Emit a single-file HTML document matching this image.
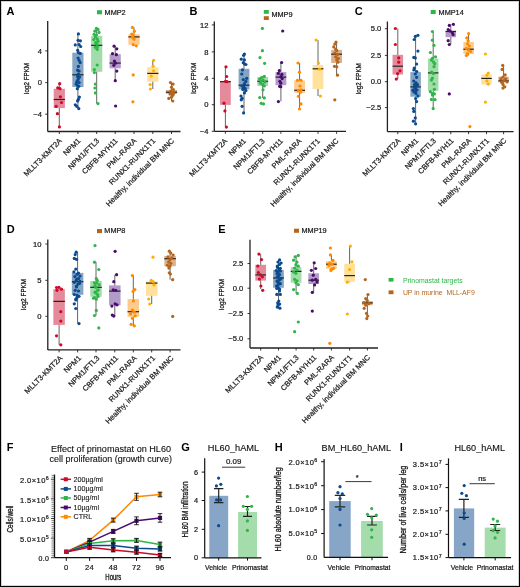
<!DOCTYPE html>
<html><head><meta charset="utf-8"><style>
html,body{margin:0;padding:0;background:#fff;}
svg{display:block;font-family:"Liberation Sans", sans-serif;will-change:transform;}
text{stroke:#1a1a1a;stroke-width:0.22px;}
.g{stroke:#2fb548;} .br{stroke:#b5651d;} .nb{stroke:none;}
</style></head><body>
<svg width="520" height="587" viewBox="0 0 520 587">
<rect x="0" y="0" width="520" height="587" fill="#fff"/>
<rect x="1.5" y="1.5" width="517" height="584" fill="none" stroke="#d4d4d4" stroke-width="1"/>
<rect x="0.5" y="0.5" width="519" height="586" fill="none" stroke="#000" stroke-width="1"/>
<line x1="47.7" y1="21" x2="47.7" y2="131.5" stroke="#222" stroke-width="1.3"/>
<line x1="47.7" y1="131.5" x2="180.5" y2="131.5" stroke="#222" stroke-width="1.3"/>
<line x1="45.2" y1="50.9" x2="47.7" y2="50.9" stroke="#222" stroke-width="0.9"/>
<text x="41.900000000000006" y="53.5" text-anchor="end" font-size="7.6" fill="#222">4</text>
<line x1="45.2" y1="82.6" x2="47.7" y2="82.6" stroke="#222" stroke-width="0.9"/>
<text x="41.900000000000006" y="85.19999999999999" text-anchor="end" font-size="7.6" fill="#222">0</text>
<line x1="45.2" y1="114.2" x2="47.7" y2="114.2" stroke="#222" stroke-width="0.9"/>
<text x="41.900000000000006" y="116.8" text-anchor="end" font-size="7.6" fill="#222">−4</text>
<text transform="translate(29.1,78.4) rotate(-90)" text-anchor="middle" font-size="7.8" fill="#111" style="stroke-width:0.28px" textLength="31" lengthAdjust="spacingAndGlyphs">log2 FPKM</text>
<line x1="59.3" y1="131.5" x2="59.3" y2="134.0" stroke="#222" stroke-width="0.9"/>
<text transform="translate(62.4,141.3) rotate(-45)" text-anchor="end" font-size="7.5" fill="#222">MLLT3-KMT2A</text>
<line x1="59.3" y1="83.7" x2="59.3" y2="126.9" stroke="#555" stroke-width="0.9"/>
<rect x="53.699999999999996" y="88.8" width="11.2" height="19.299999999999997" fill="#e58a9b"/>
<line x1="53.699999999999996" y1="99.5" x2="64.89999999999999" y2="99.5" stroke="#222" stroke-width="1.2"/>
<circle cx="59.7" cy="83.7" r="1.6" fill="#cc0a2a"/>
<circle cx="57.7" cy="87.9" r="1.6" fill="#cc0a2a"/>
<circle cx="60" cy="88.7" r="1.6" fill="#cc0a2a"/>
<circle cx="60.4" cy="96.8" r="1.6" fill="#cc0a2a"/>
<circle cx="61.5" cy="102.5" r="1.6" fill="#cc0a2a"/>
<circle cx="56.1" cy="106.3" r="1.6" fill="#cc0a2a"/>
<circle cx="57.4" cy="113.7" r="1.6" fill="#cc0a2a"/>
<circle cx="59.4" cy="126.9" r="1.6" fill="#cc0a2a"/>
<line x1="77.9" y1="131.5" x2="77.9" y2="134.0" stroke="#222" stroke-width="0.9"/>
<text transform="translate(81.0,141.3) rotate(-45)" text-anchor="end" font-size="7.5" fill="#222">NPM1</text>
<line x1="77.9" y1="33.9" x2="77.9" y2="108.6" stroke="#555" stroke-width="0.9"/>
<rect x="72.30000000000001" y="52.7" width="11.2" height="34.3" fill="#84a4c6"/>
<line x1="72.30000000000001" y1="74.8" x2="83.5" y2="74.8" stroke="#222" stroke-width="1.2"/>
<circle cx="78.4" cy="33.9" r="1.6" fill="#0b4a8e"/>
<circle cx="78.1" cy="40.3" r="1.6" fill="#0b4a8e"/>
<circle cx="80.4" cy="40.8" r="1.6" fill="#0b4a8e"/>
<circle cx="75.3" cy="44.9" r="1.6" fill="#0b4a8e"/>
<circle cx="79.1" cy="44.6" r="1.6" fill="#0b4a8e"/>
<circle cx="80.7" cy="46.5" r="1.6" fill="#0b4a8e"/>
<circle cx="77.6" cy="50.3" r="1.6" fill="#0b4a8e"/>
<circle cx="78.4" cy="52.6" r="1.6" fill="#0b4a8e"/>
<circle cx="80.2" cy="53.4" r="1.6" fill="#0b4a8e"/>
<circle cx="78.1" cy="58" r="1.6" fill="#0b4a8e"/>
<circle cx="79.1" cy="60.3" r="1.6" fill="#0b4a8e"/>
<circle cx="80.2" cy="62.6" r="1.6" fill="#0b4a8e"/>
<circle cx="78.4" cy="66.4" r="1.6" fill="#0b4a8e"/>
<circle cx="77.6" cy="70.2" r="1.6" fill="#0b4a8e"/>
<circle cx="79.1" cy="71" r="1.6" fill="#0b4a8e"/>
<circle cx="78.4" cy="74.1" r="1.6" fill="#0b4a8e"/>
<circle cx="77.6" cy="76.4" r="1.6" fill="#0b4a8e"/>
<circle cx="79.6" cy="77.1" r="1.6" fill="#0b4a8e"/>
<circle cx="78.1" cy="79.4" r="1.6" fill="#0b4a8e"/>
<circle cx="76.8" cy="81.7" r="1.6" fill="#0b4a8e"/>
<circle cx="79.1" cy="82.5" r="1.6" fill="#0b4a8e"/>
<circle cx="76.1" cy="84" r="1.6" fill="#0b4a8e"/>
<circle cx="77.6" cy="85.6" r="1.6" fill="#0b4a8e"/>
<circle cx="78.8" cy="86.3" r="1.6" fill="#0b4a8e"/>
<circle cx="77.3" cy="88.7" r="1.6" fill="#0b4a8e"/>
<circle cx="79.4" cy="97.1" r="1.6" fill="#0b4a8e"/>
<circle cx="78.4" cy="99.4" r="1.6" fill="#0b4a8e"/>
<circle cx="77.6" cy="100.9" r="1.6" fill="#0b4a8e"/>
<circle cx="75.3" cy="104.8" r="1.6" fill="#0b4a8e"/>
<circle cx="76.8" cy="106.3" r="1.6" fill="#0b4a8e"/>
<circle cx="78.8" cy="108.6" r="1.6" fill="#0b4a8e"/>
<line x1="96.7" y1="131.5" x2="96.7" y2="134.0" stroke="#222" stroke-width="0.9"/>
<text transform="translate(99.8,141.3) rotate(-45)" text-anchor="end" font-size="7.5" fill="#222">NPM1/FTL3</text>
<line x1="96.7" y1="28.4" x2="96.7" y2="103.6" stroke="#555" stroke-width="0.9"/>
<rect x="91.10000000000001" y="35.8" width="11.2" height="36.0" fill="#a2dcaa"/>
<line x1="91.10000000000001" y1="45.3" x2="102.3" y2="45.3" stroke="#222" stroke-width="1.2"/>
<circle cx="96.4" cy="28.4" r="1.6" fill="#2fb548"/>
<circle cx="98" cy="29.4" r="1.6" fill="#2fb548"/>
<circle cx="94.9" cy="31.2" r="1.6" fill="#2fb548"/>
<circle cx="99" cy="32.4" r="1.6" fill="#2fb548"/>
<circle cx="94.1" cy="34.3" r="1.6" fill="#2fb548"/>
<circle cx="96.4" cy="35" r="1.6" fill="#2fb548"/>
<circle cx="95.4" cy="37" r="1.6" fill="#2fb548"/>
<circle cx="97.2" cy="38.9" r="1.6" fill="#2fb548"/>
<circle cx="93.8" cy="39.6" r="1.6" fill="#2fb548"/>
<circle cx="98" cy="41.2" r="1.6" fill="#2fb548"/>
<circle cx="95.7" cy="42.7" r="1.6" fill="#2fb548"/>
<circle cx="96.9" cy="44.2" r="1.6" fill="#2fb548"/>
<circle cx="97.5" cy="46.5" r="1.6" fill="#2fb548"/>
<circle cx="95.4" cy="47.3" r="1.6" fill="#2fb548"/>
<circle cx="97.2" cy="49.3" r="1.6" fill="#2fb548"/>
<circle cx="97.2" cy="65" r="1.6" fill="#2fb548"/>
<circle cx="94.4" cy="69.5" r="1.6" fill="#2fb548"/>
<circle cx="94.4" cy="72.6" r="1.6" fill="#2fb548"/>
<circle cx="95.4" cy="84.1" r="1.6" fill="#2fb548"/>
<circle cx="94.9" cy="88" r="1.6" fill="#2fb548"/>
<circle cx="95.4" cy="92.9" r="1.6" fill="#2fb548"/>
<circle cx="98" cy="103.6" r="1.6" fill="#2fb548"/>
<line x1="115.2" y1="131.5" x2="115.2" y2="134.0" stroke="#222" stroke-width="0.9"/>
<text transform="translate(118.3,141.3) rotate(-45)" text-anchor="end" font-size="7.5" fill="#222">CBFB-MYH11</text>
<line x1="115.2" y1="46.2" x2="115.2" y2="80.7" stroke="#555" stroke-width="0.9"/>
<rect x="109.60000000000001" y="54.2" width="11.2" height="14.099999999999994" fill="#b39bc9"/>
<line x1="109.60000000000001" y1="63.1" x2="120.8" y2="63.1" stroke="#222" stroke-width="1.2"/>
<circle cx="114.1" cy="46.2" r="1.6" fill="#4b0b6e"/>
<circle cx="116.8" cy="48.8" r="1.6" fill="#4b0b6e"/>
<circle cx="112.5" cy="53.7" r="1.6" fill="#4b0b6e"/>
<circle cx="116.4" cy="54.7" r="1.6" fill="#4b0b6e"/>
<circle cx="114.4" cy="61.1" r="1.6" fill="#4b0b6e"/>
<circle cx="115.6" cy="63.1" r="1.6" fill="#4b0b6e"/>
<circle cx="113.8" cy="65.3" r="1.6" fill="#4b0b6e"/>
<circle cx="116.8" cy="71.1" r="1.6" fill="#4b0b6e"/>
<circle cx="115.3" cy="80.7" r="1.6" fill="#4b0b6e"/>
<circle cx="115.6" cy="106" r="1.6" fill="#4b0b6e"/>
<line x1="134" y1="131.5" x2="134" y2="134.0" stroke="#222" stroke-width="0.9"/>
<text transform="translate(137.1,141.3) rotate(-45)" text-anchor="end" font-size="7.5" fill="#222">PML-RARA</text>
<line x1="134" y1="27.4" x2="134" y2="45.8" stroke="#555" stroke-width="0.9"/>
<rect x="128.4" y="34.3" width="11.2" height="10.400000000000006" fill="#ffcb8c"/>
<line x1="128.4" y1="36.9" x2="139.6" y2="36.9" stroke="#222" stroke-width="1.2"/>
<circle cx="132.4" cy="27.4" r="1.6" fill="#ff8a00"/>
<circle cx="134.4" cy="31.2" r="1.6" fill="#ff8a00"/>
<circle cx="131.7" cy="34" r="1.6" fill="#ff8a00"/>
<circle cx="133.2" cy="35.5" r="1.6" fill="#ff8a00"/>
<circle cx="132.4" cy="37.3" r="1.6" fill="#ff8a00"/>
<circle cx="134" cy="39.2" r="1.6" fill="#ff8a00"/>
<circle cx="133.2" cy="44.7" r="1.6" fill="#ff8a00"/>
<circle cx="136.3" cy="45.8" r="1.6" fill="#ff8a00"/>
<circle cx="133.2" cy="74.9" r="1.6" fill="#ff8a00"/>
<circle cx="132.9" cy="101.8" r="1.6" fill="#ff8a00"/>
<line x1="152.8" y1="131.5" x2="152.8" y2="134.0" stroke="#222" stroke-width="0.9"/>
<text transform="translate(155.9,141.3) rotate(-45)" text-anchor="end" font-size="7.5" fill="#222">RUNX1-RUNX1T1</text>
<line x1="152.8" y1="60.3" x2="152.8" y2="89" stroke="#555" stroke-width="0.9"/>
<rect x="147.20000000000002" y="67.2" width="11.2" height="14.599999999999994" fill="#ffe19c"/>
<line x1="147.20000000000002" y1="73.4" x2="158.4" y2="73.4" stroke="#222" stroke-width="1.2"/>
<circle cx="153.6" cy="60.3" r="1.6" fill="#ffb000"/>
<circle cx="153.1" cy="66.2" r="1.6" fill="#ffb000"/>
<circle cx="153.6" cy="70.8" r="1.6" fill="#ffb000"/>
<circle cx="151.3" cy="76" r="1.6" fill="#ffb000"/>
<circle cx="150.1" cy="84.6" r="1.6" fill="#ffb000"/>
<circle cx="150.4" cy="89" r="1.6" fill="#ffb000"/>
<line x1="171.5" y1="131.5" x2="171.5" y2="134.0" stroke="#222" stroke-width="0.9"/>
<text transform="translate(174.6,141.3) rotate(-45)" text-anchor="end" font-size="7.5" fill="#222">Healthy, individual BM MNC</text>
<line x1="171.5" y1="82.6" x2="171.5" y2="101" stroke="#555" stroke-width="0.9"/>
<rect x="165.9" y="89.9" width="11.2" height="3.8999999999999915" fill="#dcb189"/>
<line x1="165.9" y1="92.2" x2="177.1" y2="92.2" stroke="#222" stroke-width="1.2"/>
<circle cx="170.5" cy="82.6" r="1.6" fill="#b5651d"/>
<circle cx="173.1" cy="84.1" r="1.6" fill="#b5651d"/>
<circle cx="171.5" cy="87.2" r="1.6" fill="#b5651d"/>
<circle cx="173.4" cy="89.5" r="1.6" fill="#b5651d"/>
<circle cx="170.8" cy="91" r="1.6" fill="#b5651d"/>
<circle cx="172.3" cy="92.6" r="1.6" fill="#b5651d"/>
<circle cx="173.8" cy="93.3" r="1.6" fill="#b5651d"/>
<circle cx="170" cy="94.1" r="1.6" fill="#b5651d"/>
<circle cx="172.8" cy="95.3" r="1.6" fill="#b5651d"/>
<circle cx="171.5" cy="97.2" r="1.6" fill="#b5651d"/>
<circle cx="168.8" cy="98.4" r="1.6" fill="#b5651d"/>
<circle cx="172.8" cy="101" r="1.6" fill="#b5651d"/>
<rect x="97" y="10.2" width="5" height="4.1" fill="#2fb548"/>
<text x="104.6" y="14.8" font-size="7.3" fill="#222">MMP2</text>
<text x="6.6" y="14.6" font-size="11" font-weight="bold" fill="#000" class="nb">A</text>
<line x1="214.3" y1="21.5" x2="214.3" y2="131.3" stroke="#222" stroke-width="1.3"/>
<line x1="214.3" y1="131.3" x2="346" y2="131.3" stroke="#222" stroke-width="1.3"/>
<line x1="211.8" y1="24.9" x2="214.3" y2="24.9" stroke="#222" stroke-width="0.9"/>
<text x="208.4" y="27.5" text-anchor="end" font-size="7.6" fill="#222">12</text>
<line x1="211.8" y1="51.9" x2="214.3" y2="51.9" stroke="#222" stroke-width="0.9"/>
<text x="208.4" y="54.5" text-anchor="end" font-size="7.6" fill="#222">8</text>
<line x1="211.8" y1="78.3" x2="214.3" y2="78.3" stroke="#222" stroke-width="0.9"/>
<text x="208.4" y="80.89999999999999" text-anchor="end" font-size="7.6" fill="#222">4</text>
<line x1="211.8" y1="104.7" x2="214.3" y2="104.7" stroke="#222" stroke-width="0.9"/>
<text x="208.4" y="107.3" text-anchor="end" font-size="7.6" fill="#222">0</text>
<line x1="211.8" y1="131.3" x2="214.3" y2="131.3" stroke="#222" stroke-width="0.9"/>
<text x="208.4" y="133.9" text-anchor="end" font-size="7.6" fill="#222">−4</text>
<text transform="translate(196.0,78.3) rotate(-90)" text-anchor="middle" font-size="7.8" fill="#111" style="stroke-width:0.28px" textLength="31" lengthAdjust="spacingAndGlyphs">log2 FPKM</text>
<line x1="225.4" y1="131.3" x2="225.4" y2="133.8" stroke="#222" stroke-width="0.9"/>
<text transform="translate(227.9,141.5) rotate(-45)" text-anchor="end" font-size="7.5" fill="#222">MLLT3-KMT2A</text>
<line x1="225.4" y1="66.8" x2="225.4" y2="127.1" stroke="#555" stroke-width="0.9"/>
<rect x="220.0" y="81.1" width="10.8" height="23.80000000000001" fill="#e58a9b"/>
<line x1="220.0" y1="81.7" x2="230.8" y2="81.7" stroke="#222" stroke-width="1.2"/>
<circle cx="226" cy="66.8" r="1.6" fill="#cc0a2a"/>
<circle cx="226.7" cy="76.5" r="1.6" fill="#cc0a2a"/>
<circle cx="225.5" cy="81.4" r="1.6" fill="#cc0a2a"/>
<circle cx="227" cy="81.7" r="1.6" fill="#cc0a2a"/>
<circle cx="224" cy="103.2" r="1.6" fill="#cc0a2a"/>
<circle cx="224.9" cy="110.9" r="1.6" fill="#cc0a2a"/>
<circle cx="226.4" cy="127.1" r="1.6" fill="#cc0a2a"/>
<line x1="244" y1="131.3" x2="244" y2="133.8" stroke="#222" stroke-width="0.9"/>
<text transform="translate(246.5,141.5) rotate(-45)" text-anchor="end" font-size="7.5" fill="#222">NPM1</text>
<line x1="244" y1="54.1" x2="244" y2="112.9" stroke="#555" stroke-width="0.9"/>
<rect x="238.6" y="68.8" width="10.8" height="20.60000000000001" fill="#84a4c6"/>
<line x1="238.6" y1="85.2" x2="249.4" y2="85.2" stroke="#222" stroke-width="1.2"/>
<circle cx="244.4" cy="54.1" r="1.6" fill="#0b4a8e"/>
<circle cx="243.6" cy="55.3" r="1.6" fill="#0b4a8e"/>
<circle cx="241.3" cy="59.2" r="1.6" fill="#0b4a8e"/>
<circle cx="244.4" cy="59.9" r="1.6" fill="#0b4a8e"/>
<circle cx="243.3" cy="62.7" r="1.6" fill="#0b4a8e"/>
<circle cx="245.9" cy="64.5" r="1.6" fill="#0b4a8e"/>
<circle cx="244.4" cy="63.8" r="1.6" fill="#0b4a8e"/>
<circle cx="242.5" cy="69.9" r="1.6" fill="#0b4a8e"/>
<circle cx="241.8" cy="74" r="1.6" fill="#0b4a8e"/>
<circle cx="246.7" cy="78.3" r="1.6" fill="#0b4a8e"/>
<circle cx="243.3" cy="79.6" r="1.6" fill="#0b4a8e"/>
<circle cx="245.9" cy="81.4" r="1.6" fill="#0b4a8e"/>
<circle cx="244.4" cy="83.7" r="1.6" fill="#0b4a8e"/>
<circle cx="242.1" cy="86" r="1.6" fill="#0b4a8e"/>
<circle cx="243.6" cy="86.8" r="1.6" fill="#0b4a8e"/>
<circle cx="245.1" cy="88.3" r="1.6" fill="#0b4a8e"/>
<circle cx="242.8" cy="89.4" r="1.6" fill="#0b4a8e"/>
<circle cx="245.9" cy="90.6" r="1.6" fill="#0b4a8e"/>
<circle cx="244.4" cy="92.9" r="1.6" fill="#0b4a8e"/>
<circle cx="241" cy="96" r="1.6" fill="#0b4a8e"/>
<circle cx="242.1" cy="98.3" r="1.6" fill="#0b4a8e"/>
<circle cx="241.3" cy="99.8" r="1.6" fill="#0b4a8e"/>
<circle cx="242.1" cy="106.3" r="1.6" fill="#0b4a8e"/>
<circle cx="243.6" cy="112.9" r="1.6" fill="#0b4a8e"/>
<line x1="262.7" y1="131.3" x2="262.7" y2="133.8" stroke="#222" stroke-width="0.9"/>
<text transform="translate(265.2,141.5) rotate(-45)" text-anchor="end" font-size="7.5" fill="#222">NPM1/FTL3</text>
<line x1="262.7" y1="76" x2="262.7" y2="98" stroke="#555" stroke-width="0.9"/>
<rect x="257.3" y="77" width="10.8" height="9" fill="#a2dcaa"/>
<line x1="257.3" y1="81.3" x2="268.09999999999997" y2="81.3" stroke="#222" stroke-width="1.2"/>
<circle cx="262.4" cy="28.4" r="1.6" fill="#2fb548"/>
<circle cx="262.4" cy="50.7" r="1.6" fill="#2fb548"/>
<circle cx="260" cy="57.6" r="1.6" fill="#2fb548"/>
<circle cx="264.6" cy="63.3" r="1.6" fill="#2fb548"/>
<circle cx="264.3" cy="76.4" r="1.6" fill="#2fb548"/>
<circle cx="261.5" cy="77.5" r="1.6" fill="#2fb548"/>
<circle cx="259.7" cy="79" r="1.6" fill="#2fb548"/>
<circle cx="263" cy="79.8" r="1.6" fill="#2fb548"/>
<circle cx="261.2" cy="81.3" r="1.6" fill="#2fb548"/>
<circle cx="265" cy="82.1" r="1.6" fill="#2fb548"/>
<circle cx="260.4" cy="83.2" r="1.6" fill="#2fb548"/>
<circle cx="262.7" cy="84.4" r="1.6" fill="#2fb548"/>
<circle cx="264.3" cy="86" r="1.6" fill="#2fb548"/>
<circle cx="263" cy="89.8" r="1.6" fill="#2fb548"/>
<circle cx="259.7" cy="97.5" r="1.6" fill="#2fb548"/>
<circle cx="264.3" cy="97.9" r="1.6" fill="#2fb548"/>
<circle cx="261.2" cy="103.3" r="1.6" fill="#2fb548"/>
<circle cx="263.5" cy="103.9" r="1.6" fill="#2fb548"/>
<line x1="280.9" y1="131.3" x2="280.9" y2="133.8" stroke="#222" stroke-width="0.9"/>
<text transform="translate(283.4,141.5) rotate(-45)" text-anchor="end" font-size="7.5" fill="#222">CBFB-MYH11</text>
<line x1="280.9" y1="62.5" x2="280.9" y2="101.3" stroke="#555" stroke-width="0.9"/>
<rect x="275.5" y="72.1" width="10.8" height="13.100000000000009" fill="#b39bc9"/>
<line x1="275.5" y1="77.1" x2="286.29999999999995" y2="77.1" stroke="#222" stroke-width="1.2"/>
<circle cx="282.7" cy="31" r="1.6" fill="#4b0b6e"/>
<circle cx="281.6" cy="62.5" r="1.6" fill="#4b0b6e"/>
<circle cx="279.3" cy="70.6" r="1.6" fill="#4b0b6e"/>
<circle cx="278.4" cy="73.4" r="1.6" fill="#4b0b6e"/>
<circle cx="281.9" cy="74.4" r="1.6" fill="#4b0b6e"/>
<circle cx="280.8" cy="76.7" r="1.6" fill="#4b0b6e"/>
<circle cx="282.2" cy="78.6" r="1.6" fill="#4b0b6e"/>
<circle cx="279.9" cy="81.3" r="1.6" fill="#4b0b6e"/>
<circle cx="280.8" cy="83.2" r="1.6" fill="#4b0b6e"/>
<circle cx="279.6" cy="86.3" r="1.6" fill="#4b0b6e"/>
<circle cx="280.8" cy="86.7" r="1.6" fill="#4b0b6e"/>
<circle cx="278.4" cy="101.6" r="1.6" fill="#4b0b6e"/>
<line x1="299.6" y1="131.3" x2="299.6" y2="133.8" stroke="#222" stroke-width="0.9"/>
<text transform="translate(302.1,141.5) rotate(-45)" text-anchor="end" font-size="7.5" fill="#222">PML-RARA</text>
<line x1="299.6" y1="63" x2="299.6" y2="109" stroke="#555" stroke-width="0.9"/>
<rect x="294.20000000000005" y="80.6" width="10.8" height="12.300000000000011" fill="#ffcb8c"/>
<line x1="294.20000000000005" y1="90.3" x2="305.0" y2="90.3" stroke="#222" stroke-width="1.2"/>
<circle cx="298" cy="63" r="1.6" fill="#ff8a00"/>
<circle cx="299.5" cy="72.2" r="1.6" fill="#ff8a00"/>
<circle cx="297.4" cy="80.3" r="1.6" fill="#ff8a00"/>
<circle cx="301" cy="80.3" r="1.6" fill="#ff8a00"/>
<circle cx="300" cy="86" r="1.6" fill="#ff8a00"/>
<circle cx="301" cy="89.8" r="1.6" fill="#ff8a00"/>
<circle cx="298.4" cy="91" r="1.6" fill="#ff8a00"/>
<circle cx="300.7" cy="92.1" r="1.6" fill="#ff8a00"/>
<circle cx="298.4" cy="96.3" r="1.6" fill="#ff8a00"/>
<circle cx="301" cy="103.9" r="1.6" fill="#ff8a00"/>
<circle cx="299.5" cy="109" r="1.6" fill="#ff8a00"/>
<line x1="318" y1="131.3" x2="318" y2="133.8" stroke="#222" stroke-width="0.9"/>
<text transform="translate(320.5,141.5) rotate(-45)" text-anchor="end" font-size="7.5" fill="#222">RUNX1-RUNX1T1</text>
<line x1="318" y1="40" x2="318" y2="96" stroke="#555" stroke-width="0.9"/>
<rect x="312.6" y="65" width="10.8" height="24" fill="#ffe19c"/>
<line x1="312.6" y1="68.8" x2="323.4" y2="68.8" stroke="#222" stroke-width="1.2"/>
<circle cx="316.1" cy="40" r="1.6" fill="#ffb000"/>
<circle cx="318.4" cy="63" r="1.6" fill="#ffb000"/>
<circle cx="319.6" cy="69.1" r="1.6" fill="#ffb000"/>
<circle cx="320.4" cy="96" r="1.6" fill="#ffb000"/>
<line x1="336.6" y1="131.3" x2="336.6" y2="133.8" stroke="#222" stroke-width="0.9"/>
<text transform="translate(339.1,141.5) rotate(-45)" text-anchor="end" font-size="7.5" fill="#222">Healthy, individual BM MNC</text>
<line x1="336.6" y1="42" x2="336.6" y2="75.2" stroke="#555" stroke-width="0.9"/>
<rect x="331.20000000000005" y="49.9" width="10.8" height="13.100000000000001" fill="#dcb189"/>
<line x1="331.20000000000005" y1="54.2" x2="342.0" y2="54.2" stroke="#222" stroke-width="1.2"/>
<circle cx="336" cy="42" r="1.6" fill="#b5651d"/>
<circle cx="334.8" cy="44.1" r="1.6" fill="#b5651d"/>
<circle cx="333.7" cy="46.9" r="1.6" fill="#b5651d"/>
<circle cx="335.7" cy="49.2" r="1.6" fill="#b5651d"/>
<circle cx="336.8" cy="50.7" r="1.6" fill="#b5651d"/>
<circle cx="334.8" cy="53" r="1.6" fill="#b5651d"/>
<circle cx="337.5" cy="54.5" r="1.6" fill="#b5651d"/>
<circle cx="335.7" cy="56.8" r="1.6" fill="#b5651d"/>
<circle cx="338.3" cy="58.4" r="1.6" fill="#b5651d"/>
<circle cx="336.8" cy="59.9" r="1.6" fill="#b5651d"/>
<circle cx="337.9" cy="62.2" r="1.6" fill="#b5651d"/>
<circle cx="334.5" cy="66.3" r="1.6" fill="#b5651d"/>
<circle cx="336.8" cy="66.8" r="1.6" fill="#b5651d"/>
<circle cx="337.5" cy="75.2" r="1.6" fill="#b5651d"/>
<circle cx="334.8" cy="99.8" r="1.6" fill="#b5651d"/>
<rect x="263.8" y="10" width="5" height="3.8" fill="#2fb548"/>
<rect x="263.8" y="16.2" width="5" height="3.8" fill="#b5651d"/>
<text x="271.4" y="16.8" font-size="7.3" fill="#222">MMP9</text>
<text x="189.5" y="14.7" font-size="11" font-weight="bold" fill="#000" class="nb">B</text>
<line x1="387.4" y1="21.5" x2="387.4" y2="131.7" stroke="#222" stroke-width="1.3"/>
<line x1="387.4" y1="131.7" x2="513.6" y2="131.7" stroke="#222" stroke-width="1.3"/>
<line x1="384.9" y1="28.7" x2="387.4" y2="28.7" stroke="#222" stroke-width="0.9"/>
<text x="381.29999999999995" y="31.3" text-anchor="end" font-size="7.6" fill="#222">5.0</text>
<line x1="384.9" y1="55.4" x2="387.4" y2="55.4" stroke="#222" stroke-width="0.9"/>
<text x="381.29999999999995" y="58.0" text-anchor="end" font-size="7.6" fill="#222">2.5</text>
<line x1="384.9" y1="81.7" x2="387.4" y2="81.7" stroke="#222" stroke-width="0.9"/>
<text x="381.29999999999995" y="84.3" text-anchor="end" font-size="7.6" fill="#222">0.0</text>
<line x1="384.9" y1="107.6" x2="387.4" y2="107.6" stroke="#222" stroke-width="0.9"/>
<text x="381.29999999999995" y="110.19999999999999" text-anchor="end" font-size="7.6" fill="#222">−2.5</text>
<text transform="translate(361.0,78.7) rotate(-90)" text-anchor="middle" font-size="7.8" fill="#111" style="stroke-width:0.28px" textLength="31" lengthAdjust="spacingAndGlyphs">log2 FPKM</text>
<line x1="397.8" y1="131.7" x2="397.8" y2="134.2" stroke="#222" stroke-width="0.9"/>
<text transform="translate(401.1,141.2) rotate(-45)" text-anchor="end" font-size="7.5" fill="#222">MLLT3-KMT2A</text>
<line x1="397.8" y1="28.5" x2="397.8" y2="79" stroke="#555" stroke-width="0.9"/>
<rect x="392.55" y="54.8" width="10.5" height="19.700000000000003" fill="#e58a9b"/>
<line x1="392.55" y1="66.2" x2="403.05" y2="66.2" stroke="#222" stroke-width="1.2"/>
<circle cx="395.4" cy="28.5" r="1.6" fill="#cc0a2a"/>
<circle cx="395.4" cy="44.5" r="1.6" fill="#cc0a2a"/>
<circle cx="398.7" cy="57.9" r="1.6" fill="#cc0a2a"/>
<circle cx="398.7" cy="62.2" r="1.6" fill="#cc0a2a"/>
<circle cx="400" cy="70.8" r="1.6" fill="#cc0a2a"/>
<circle cx="397.6" cy="73.6" r="1.6" fill="#cc0a2a"/>
<circle cx="396.3" cy="79.1" r="1.6" fill="#cc0a2a"/>
<line x1="415.6" y1="131.7" x2="415.6" y2="134.2" stroke="#222" stroke-width="0.9"/>
<text transform="translate(418.90000000000003,141.2) rotate(-45)" text-anchor="end" font-size="7.5" fill="#222">NPM1</text>
<line x1="415.6" y1="35.3" x2="415.6" y2="123.8" stroke="#555" stroke-width="0.9"/>
<rect x="410.35" y="72.1" width="10.5" height="24.60000000000001" fill="#84a4c6"/>
<line x1="410.35" y1="86.9" x2="420.85" y2="86.9" stroke="#222" stroke-width="1.2"/>
<circle cx="417.9" cy="35.3" r="1.6" fill="#0b4a8e"/>
<circle cx="415.3" cy="36.4" r="1.6" fill="#0b4a8e"/>
<circle cx="414.2" cy="39.5" r="1.6" fill="#0b4a8e"/>
<circle cx="417.9" cy="51.1" r="1.6" fill="#0b4a8e"/>
<circle cx="413.8" cy="57.4" r="1.6" fill="#0b4a8e"/>
<circle cx="415.3" cy="57.9" r="1.6" fill="#0b4a8e"/>
<circle cx="416.6" cy="64" r="1.6" fill="#0b4a8e"/>
<circle cx="414.2" cy="68.1" r="1.6" fill="#0b4a8e"/>
<circle cx="415.3" cy="74" r="1.6" fill="#0b4a8e"/>
<circle cx="416.6" cy="77.3" r="1.6" fill="#0b4a8e"/>
<circle cx="413.8" cy="81" r="1.6" fill="#0b4a8e"/>
<circle cx="416" cy="82.8" r="1.6" fill="#0b4a8e"/>
<circle cx="417.5" cy="84.7" r="1.6" fill="#0b4a8e"/>
<circle cx="414.7" cy="86.5" r="1.6" fill="#0b4a8e"/>
<circle cx="415.6" cy="88.7" r="1.6" fill="#0b4a8e"/>
<circle cx="412.9" cy="90.2" r="1.6" fill="#0b4a8e"/>
<circle cx="415.6" cy="91.7" r="1.6" fill="#0b4a8e"/>
<circle cx="417.9" cy="96.1" r="1.6" fill="#0b4a8e"/>
<circle cx="415.6" cy="98.5" r="1.6" fill="#0b4a8e"/>
<circle cx="416.6" cy="101.6" r="1.6" fill="#0b4a8e"/>
<circle cx="413.4" cy="108.6" r="1.6" fill="#0b4a8e"/>
<circle cx="413.8" cy="111.4" r="1.6" fill="#0b4a8e"/>
<circle cx="415.3" cy="117.9" r="1.6" fill="#0b4a8e"/>
<circle cx="413.4" cy="121.2" r="1.6" fill="#0b4a8e"/>
<circle cx="415.6" cy="123.8" r="1.6" fill="#0b4a8e"/>
<circle cx="414.5" cy="84.5" r="1.6" fill="#0b4a8e"/>
<circle cx="416.5" cy="86" r="1.6" fill="#0b4a8e"/>
<circle cx="415" cy="88" r="1.6" fill="#0b4a8e"/>
<circle cx="417" cy="90" r="1.6" fill="#0b4a8e"/>
<circle cx="414" cy="92" r="1.6" fill="#0b4a8e"/>
<circle cx="416" cy="93.5" r="1.6" fill="#0b4a8e"/>
<circle cx="413.8" cy="70" r="1.6" fill="#0b4a8e"/>
<circle cx="416.8" cy="71.5" r="1.6" fill="#0b4a8e"/>
<line x1="433.2" y1="131.7" x2="433.2" y2="134.2" stroke="#222" stroke-width="0.9"/>
<text transform="translate(436.5,141.2) rotate(-45)" text-anchor="end" font-size="7.5" fill="#222">NPM1/FTL3</text>
<line x1="433.2" y1="31.5" x2="433.2" y2="108.6" stroke="#555" stroke-width="0.9"/>
<rect x="427.95" y="58.6" width="10.5" height="32.199999999999996" fill="#a2dcaa"/>
<line x1="427.95" y1="72.9" x2="438.45" y2="72.9" stroke="#222" stroke-width="1.2"/>
<circle cx="432.4" cy="31.5" r="1.6" fill="#2fb548"/>
<circle cx="432.4" cy="40.2" r="1.6" fill="#2fb548"/>
<circle cx="434" cy="45.3" r="1.6" fill="#2fb548"/>
<circle cx="430.4" cy="52.5" r="1.6" fill="#2fb548"/>
<circle cx="435.5" cy="56.8" r="1.6" fill="#2fb548"/>
<circle cx="432.4" cy="58.3" r="1.6" fill="#2fb548"/>
<circle cx="431.4" cy="60.1" r="1.6" fill="#2fb548"/>
<circle cx="433.5" cy="62.1" r="1.6" fill="#2fb548"/>
<circle cx="434.7" cy="63.7" r="1.6" fill="#2fb548"/>
<circle cx="434" cy="66.7" r="1.6" fill="#2fb548"/>
<circle cx="431.7" cy="72.1" r="1.6" fill="#2fb548"/>
<circle cx="433.5" cy="73.6" r="1.6" fill="#2fb548"/>
<circle cx="432.4" cy="78.2" r="1.6" fill="#2fb548"/>
<circle cx="431.4" cy="80.1" r="1.6" fill="#2fb548"/>
<circle cx="434" cy="84" r="1.6" fill="#2fb548"/>
<circle cx="434.4" cy="89.3" r="1.6" fill="#2fb548"/>
<circle cx="430.4" cy="91.7" r="1.6" fill="#2fb548"/>
<circle cx="432.4" cy="93.6" r="1.6" fill="#2fb548"/>
<circle cx="434.4" cy="93.9" r="1.6" fill="#2fb548"/>
<circle cx="432.4" cy="95.1" r="1.6" fill="#2fb548"/>
<circle cx="431.4" cy="99.4" r="1.6" fill="#2fb548"/>
<circle cx="435" cy="99.7" r="1.6" fill="#2fb548"/>
<circle cx="433.2" cy="108.6" r="1.6" fill="#2fb548"/>
<line x1="450.8" y1="131.7" x2="450.8" y2="134.2" stroke="#222" stroke-width="0.9"/>
<text transform="translate(454.1,141.2) rotate(-45)" text-anchor="end" font-size="7.5" fill="#222">CBFB-MYH11</text>
<line x1="450.8" y1="24.3" x2="450.8" y2="44.5" stroke="#555" stroke-width="0.9"/>
<rect x="445.55" y="30.7" width="10.5" height="6.5000000000000036" fill="#b39bc9"/>
<line x1="445.55" y1="31.5" x2="456.05" y2="31.5" stroke="#222" stroke-width="1.2"/>
<circle cx="449.3" cy="25.4" r="1.6" fill="#4b0b6e"/>
<circle cx="453.4" cy="24.3" r="1.6" fill="#4b0b6e"/>
<circle cx="448.2" cy="29.5" r="1.6" fill="#4b0b6e"/>
<circle cx="450" cy="31" r="1.6" fill="#4b0b6e"/>
<circle cx="452.3" cy="32.6" r="1.6" fill="#4b0b6e"/>
<circle cx="453.1" cy="34.6" r="1.6" fill="#4b0b6e"/>
<circle cx="448.2" cy="40.7" r="1.6" fill="#4b0b6e"/>
<circle cx="449.3" cy="44.5" r="1.6" fill="#4b0b6e"/>
<circle cx="449.3" cy="93.9" r="1.6" fill="#4b0b6e"/>
<line x1="468.6" y1="131.7" x2="468.6" y2="134.2" stroke="#222" stroke-width="0.9"/>
<text transform="translate(471.90000000000003,141.2) rotate(-45)" text-anchor="end" font-size="7.5" fill="#222">PML-RARA</text>
<line x1="468.6" y1="33.6" x2="468.6" y2="55.5" stroke="#555" stroke-width="0.9"/>
<rect x="463.35" y="42" width="10.5" height="12" fill="#ffcb8c"/>
<line x1="463.35" y1="49.2" x2="473.85" y2="49.2" stroke="#222" stroke-width="1.2"/>
<circle cx="468.6" cy="33.6" r="1.6" fill="#ff8a00"/>
<circle cx="466.8" cy="37.9" r="1.6" fill="#ff8a00"/>
<circle cx="468.1" cy="40.8" r="1.6" fill="#ff8a00"/>
<circle cx="467.5" cy="43.8" r="1.6" fill="#ff8a00"/>
<circle cx="469.3" cy="46.1" r="1.6" fill="#ff8a00"/>
<circle cx="466.3" cy="48.3" r="1.6" fill="#ff8a00"/>
<circle cx="468.6" cy="50.1" r="1.6" fill="#ff8a00"/>
<circle cx="470.8" cy="51.5" r="1.6" fill="#ff8a00"/>
<circle cx="467.5" cy="53.7" r="1.6" fill="#ff8a00"/>
<circle cx="466.3" cy="55.5" r="1.6" fill="#ff8a00"/>
<circle cx="469.9" cy="126.6" r="1.6" fill="#ff8a00"/>
<line x1="486.5" y1="131.7" x2="486.5" y2="134.2" stroke="#222" stroke-width="0.9"/>
<text transform="translate(489.8,141.2) rotate(-45)" text-anchor="end" font-size="7.5" fill="#222">RUNX1-RUNX1T1</text>
<line x1="486.5" y1="74.3" x2="486.5" y2="84.5" stroke="#555" stroke-width="0.9"/>
<rect x="481.25" y="74.3" width="10.5" height="10.200000000000003" fill="#ffe19c"/>
<line x1="481.25" y1="78.4" x2="491.75" y2="78.4" stroke="#222" stroke-width="1.2"/>
<circle cx="485.4" cy="54" r="1.6" fill="#ffb000"/>
<circle cx="488.3" cy="73" r="1.6" fill="#ffb000"/>
<circle cx="486.9" cy="75.2" r="1.6" fill="#ffb000"/>
<circle cx="486.9" cy="80.9" r="1.6" fill="#ffb000"/>
<circle cx="488.3" cy="84.1" r="1.6" fill="#ffb000"/>
<circle cx="485.4" cy="102.1" r="1.6" fill="#ffb000"/>
<line x1="503.6" y1="131.7" x2="503.6" y2="134.2" stroke="#222" stroke-width="0.9"/>
<text transform="translate(506.90000000000003,141.2) rotate(-45)" text-anchor="end" font-size="7.5" fill="#222">Healthy, individual BM MNC</text>
<line x1="503.6" y1="65.3" x2="503.6" y2="88.1" stroke="#555" stroke-width="0.9"/>
<rect x="498.35" y="76.6" width="10.5" height="5.700000000000003" fill="#dcb189"/>
<line x1="498.35" y1="80.9" x2="508.85" y2="80.9" stroke="#222" stroke-width="1.2"/>
<circle cx="502.7" cy="65.3" r="1.6" fill="#b5651d"/>
<circle cx="502.1" cy="69.4" r="1.6" fill="#b5651d"/>
<circle cx="505.2" cy="74.8" r="1.6" fill="#b5651d"/>
<circle cx="503" cy="77" r="1.6" fill="#b5651d"/>
<circle cx="500.9" cy="78.8" r="1.6" fill="#b5651d"/>
<circle cx="505.7" cy="78.8" r="1.6" fill="#b5651d"/>
<circle cx="503.9" cy="80.6" r="1.6" fill="#b5651d"/>
<circle cx="501.6" cy="82.3" r="1.6" fill="#b5651d"/>
<circle cx="507" cy="82" r="1.6" fill="#b5651d"/>
<circle cx="503" cy="84.5" r="1.6" fill="#b5651d"/>
<circle cx="504.8" cy="86.8" r="1.6" fill="#b5651d"/>
<circle cx="503" cy="88.1" r="1.6" fill="#b5651d"/>
<rect x="430.7" y="10" width="5" height="4.1" fill="#2fb548"/>
<text x="438.6" y="14.6" font-size="7.3" fill="#222">MMP14</text>
<text x="354.8" y="14.7" font-size="11" font-weight="bold" fill="#000" class="nb">C</text>
<line x1="47.8" y1="239.5" x2="47.8" y2="349.9" stroke="#222" stroke-width="1.3"/>
<line x1="47.8" y1="349.9" x2="180.5" y2="349.9" stroke="#222" stroke-width="1.3"/>
<line x1="45.3" y1="244" x2="47.8" y2="244" stroke="#222" stroke-width="0.9"/>
<text x="41.4" y="246.6" text-anchor="end" font-size="7.6" fill="#222">10</text>
<line x1="45.3" y1="280.3" x2="47.8" y2="280.3" stroke="#222" stroke-width="0.9"/>
<text x="41.4" y="282.90000000000003" text-anchor="end" font-size="7.6" fill="#222">5</text>
<line x1="45.3" y1="316.3" x2="47.8" y2="316.3" stroke="#222" stroke-width="0.9"/>
<text x="41.4" y="318.90000000000003" text-anchor="end" font-size="7.6" fill="#222">0</text>
<text transform="translate(25.8,294.5) rotate(-90)" text-anchor="middle" font-size="7.8" fill="#111" style="stroke-width:0.28px" textLength="31" lengthAdjust="spacingAndGlyphs">log2 FPKM</text>
<line x1="59.1" y1="349.9" x2="59.1" y2="352.4" stroke="#222" stroke-width="0.9"/>
<text transform="translate(63.1,358.59999999999997) rotate(-45)" text-anchor="end" font-size="7.5" fill="#222">MLLT3-KMT2A</text>
<line x1="59.1" y1="287.3" x2="59.1" y2="344.8" stroke="#555" stroke-width="0.9"/>
<rect x="53.35" y="289.2" width="11.5" height="35.69999999999999" fill="#e58a9b"/>
<line x1="53.35" y1="301.4" x2="64.85" y2="301.4" stroke="#222" stroke-width="1.2"/>
<circle cx="56.5" cy="287.5" r="1.6" fill="#cc0a2a"/>
<circle cx="58.9" cy="287.3" r="1.6" fill="#cc0a2a"/>
<circle cx="61.5" cy="289.2" r="1.6" fill="#cc0a2a"/>
<circle cx="57" cy="290.3" r="1.6" fill="#cc0a2a"/>
<circle cx="60.8" cy="311.7" r="1.6" fill="#cc0a2a"/>
<circle cx="60.8" cy="321.1" r="1.6" fill="#cc0a2a"/>
<circle cx="56.5" cy="335.8" r="1.6" fill="#cc0a2a"/>
<circle cx="60.8" cy="344.8" r="1.6" fill="#cc0a2a"/>
<line x1="77.6" y1="349.9" x2="77.6" y2="352.4" stroke="#222" stroke-width="0.9"/>
<text transform="translate(81.6,358.59999999999997) rotate(-45)" text-anchor="end" font-size="7.5" fill="#222">NPM1</text>
<line x1="77.6" y1="252.2" x2="77.6" y2="323.6" stroke="#555" stroke-width="0.9"/>
<rect x="71.85" y="272.9" width="11.5" height="21.900000000000034" fill="#84a4c6"/>
<line x1="71.85" y1="281.7" x2="83.35" y2="281.7" stroke="#222" stroke-width="1.2"/>
<circle cx="76.2" cy="252.2" r="1.6" fill="#0b4a8e"/>
<circle cx="75.2" cy="254.6" r="1.6" fill="#0b4a8e"/>
<circle cx="74.3" cy="258.4" r="1.6" fill="#0b4a8e"/>
<circle cx="76.5" cy="259.3" r="1.6" fill="#0b4a8e"/>
<circle cx="75.8" cy="269.1" r="1.6" fill="#0b4a8e"/>
<circle cx="73.9" cy="271.9" r="1.6" fill="#0b4a8e"/>
<circle cx="77.1" cy="274.2" r="1.6" fill="#0b4a8e"/>
<circle cx="74.9" cy="276.6" r="1.6" fill="#0b4a8e"/>
<circle cx="78.6" cy="278.5" r="1.6" fill="#0b4a8e"/>
<circle cx="76.2" cy="280.4" r="1.6" fill="#0b4a8e"/>
<circle cx="79.9" cy="281.3" r="1.6" fill="#0b4a8e"/>
<circle cx="74.3" cy="282.3" r="1.6" fill="#0b4a8e"/>
<circle cx="78" cy="284.1" r="1.6" fill="#0b4a8e"/>
<circle cx="76.5" cy="287" r="1.6" fill="#0b4a8e"/>
<circle cx="75.2" cy="290.3" r="1.6" fill="#0b4a8e"/>
<circle cx="74.3" cy="294.5" r="1.6" fill="#0b4a8e"/>
<circle cx="77.1" cy="295.4" r="1.6" fill="#0b4a8e"/>
<circle cx="79" cy="296.3" r="1.6" fill="#0b4a8e"/>
<circle cx="75.8" cy="299.2" r="1.6" fill="#0b4a8e"/>
<circle cx="74.3" cy="303.8" r="1.6" fill="#0b4a8e"/>
<circle cx="75.8" cy="308.5" r="1.6" fill="#0b4a8e"/>
<circle cx="79" cy="323.6" r="1.6" fill="#0b4a8e"/>
<circle cx="78.5" cy="273" r="1.6" fill="#0b4a8e"/>
<circle cx="80" cy="276" r="1.6" fill="#0b4a8e"/>
<circle cx="77" cy="279" r="1.6" fill="#0b4a8e"/>
<circle cx="79.5" cy="283.5" r="1.6" fill="#0b4a8e"/>
<circle cx="76.5" cy="286" r="1.6" fill="#0b4a8e"/>
<circle cx="78.5" cy="291" r="1.6" fill="#0b4a8e"/>
<circle cx="77" cy="297.5" r="1.6" fill="#0b4a8e"/>
<circle cx="76" cy="300" r="1.6" fill="#0b4a8e"/>
<line x1="96" y1="349.9" x2="96" y2="352.4" stroke="#222" stroke-width="0.9"/>
<text transform="translate(100.0,358.59999999999997) rotate(-45)" text-anchor="end" font-size="7.5" fill="#222">NPM1/FTL3</text>
<line x1="96" y1="262.2" x2="96" y2="315.5" stroke="#555" stroke-width="0.9"/>
<rect x="90.25" y="281" width="11.5" height="15.699999999999989" fill="#a2dcaa"/>
<line x1="90.25" y1="287.3" x2="101.75" y2="287.3" stroke="#222" stroke-width="1.2"/>
<circle cx="95" cy="245.6" r="1.6" fill="#2fb548"/>
<circle cx="94.5" cy="262.2" r="1.6" fill="#2fb548"/>
<circle cx="98.8" cy="269.5" r="1.6" fill="#2fb548"/>
<circle cx="96.3" cy="278.5" r="1.6" fill="#2fb548"/>
<circle cx="97.3" cy="280.4" r="1.6" fill="#2fb548"/>
<circle cx="94.5" cy="282.8" r="1.6" fill="#2fb548"/>
<circle cx="99.1" cy="284.7" r="1.6" fill="#2fb548"/>
<circle cx="95.8" cy="287.3" r="1.6" fill="#2fb548"/>
<circle cx="98.2" cy="289.8" r="1.6" fill="#2fb548"/>
<circle cx="95" cy="292.2" r="1.6" fill="#2fb548"/>
<circle cx="97.6" cy="294.5" r="1.6" fill="#2fb548"/>
<circle cx="93.5" cy="298.2" r="1.6" fill="#2fb548"/>
<circle cx="96.3" cy="299.2" r="1.6" fill="#2fb548"/>
<circle cx="96.3" cy="310.4" r="1.6" fill="#2fb548"/>
<circle cx="94.5" cy="315.5" r="1.6" fill="#2fb548"/>
<circle cx="98.8" cy="327.9" r="1.6" fill="#2fb548"/>
<circle cx="96.5" cy="283" r="1.6" fill="#2fb548"/>
<circle cx="95" cy="285.5" r="1.6" fill="#2fb548"/>
<circle cx="97.5" cy="290.5" r="1.6" fill="#2fb548"/>
<circle cx="96" cy="293" r="1.6" fill="#2fb548"/>
<circle cx="98" cy="296.5" r="1.6" fill="#2fb548"/>
<circle cx="94.5" cy="297.5" r="1.6" fill="#2fb548"/>
<line x1="114.8" y1="349.9" x2="114.8" y2="352.4" stroke="#222" stroke-width="0.9"/>
<text transform="translate(118.8,358.59999999999997) rotate(-45)" text-anchor="end" font-size="7.5" fill="#222">CBFB-MYH11</text>
<line x1="114.8" y1="274.7" x2="114.8" y2="316.1" stroke="#555" stroke-width="0.9"/>
<rect x="109.05" y="285.4" width="11.5" height="20.0" fill="#b39bc9"/>
<line x1="109.05" y1="291.1" x2="120.55" y2="291.1" stroke="#222" stroke-width="1.2"/>
<circle cx="115.1" cy="251.3" r="1.6" fill="#4b0b6e"/>
<circle cx="116.6" cy="274.7" r="1.6" fill="#4b0b6e"/>
<circle cx="113.8" cy="281.7" r="1.6" fill="#4b0b6e"/>
<circle cx="113.2" cy="289.8" r="1.6" fill="#4b0b6e"/>
<circle cx="115.7" cy="290.3" r="1.6" fill="#4b0b6e"/>
<circle cx="111.9" cy="306.1" r="1.6" fill="#4b0b6e"/>
<circle cx="115.1" cy="303.8" r="1.6" fill="#4b0b6e"/>
<circle cx="117" cy="304.8" r="1.6" fill="#4b0b6e"/>
<circle cx="112.3" cy="315.1" r="1.6" fill="#4b0b6e"/>
<circle cx="113.8" cy="316.1" r="1.6" fill="#4b0b6e"/>
<line x1="133.3" y1="349.9" x2="133.3" y2="352.4" stroke="#222" stroke-width="0.9"/>
<text transform="translate(137.3,358.59999999999997) rotate(-45)" text-anchor="end" font-size="7.5" fill="#222">PML-RARA</text>
<line x1="133.3" y1="275.6" x2="133.3" y2="325.8" stroke="#555" stroke-width="0.9"/>
<rect x="127.55000000000001" y="299" width="11.5" height="17.80000000000001" fill="#ffcb8c"/>
<line x1="127.55000000000001" y1="311.7" x2="139.05" y2="311.7" stroke="#222" stroke-width="1.2"/>
<circle cx="132.4" cy="275.6" r="1.6" fill="#ff8a00"/>
<circle cx="134.9" cy="289.6" r="1.6" fill="#ff8a00"/>
<circle cx="133" cy="291.5" r="1.6" fill="#ff8a00"/>
<circle cx="133.4" cy="300.9" r="1.6" fill="#ff8a00"/>
<circle cx="132.4" cy="310.2" r="1.6" fill="#ff8a00"/>
<circle cx="134.3" cy="312.1" r="1.6" fill="#ff8a00"/>
<circle cx="130.6" cy="314" r="1.6" fill="#ff8a00"/>
<circle cx="135.2" cy="315.8" r="1.6" fill="#ff8a00"/>
<circle cx="132.4" cy="318.3" r="1.6" fill="#ff8a00"/>
<circle cx="131.1" cy="324.3" r="1.6" fill="#ff8a00"/>
<circle cx="134.3" cy="325.8" r="1.6" fill="#ff8a00"/>
<line x1="151.7" y1="349.9" x2="151.7" y2="352.4" stroke="#222" stroke-width="0.9"/>
<text transform="translate(155.7,358.59999999999997) rotate(-45)" text-anchor="end" font-size="7.5" fill="#222">RUNX1-RUNX1T1</text>
<line x1="151.7" y1="280.3" x2="151.7" y2="304" stroke="#555" stroke-width="0.9"/>
<rect x="145.95" y="281.2" width="11.5" height="14.600000000000023" fill="#ffe19c"/>
<line x1="145.95" y1="283.1" x2="157.45" y2="283.1" stroke="#222" stroke-width="1.2"/>
<circle cx="153" cy="257.2" r="1.6" fill="#ffb000"/>
<circle cx="151.2" cy="280.3" r="1.6" fill="#ffb000"/>
<circle cx="153" cy="281.6" r="1.6" fill="#ffb000"/>
<circle cx="154" cy="284.9" r="1.6" fill="#ffb000"/>
<circle cx="148.7" cy="299" r="1.6" fill="#ffb000"/>
<circle cx="149.8" cy="304" r="1.6" fill="#ffb000"/>
<line x1="170.1" y1="349.9" x2="170.1" y2="352.4" stroke="#222" stroke-width="0.9"/>
<text transform="translate(174.1,358.59999999999997) rotate(-45)" text-anchor="end" font-size="7.5" fill="#222">Healthy, individual BM MNC</text>
<line x1="170.1" y1="251.2" x2="170.1" y2="279.7" stroke="#555" stroke-width="0.9"/>
<rect x="164.35" y="255.9" width="11.5" height="10.299999999999983" fill="#dcb189"/>
<line x1="164.35" y1="258.7" x2="175.85" y2="258.7" stroke="#222" stroke-width="1.2"/>
<circle cx="169.3" cy="251.2" r="1.6" fill="#b5651d"/>
<circle cx="170.8" cy="253.1" r="1.6" fill="#b5651d"/>
<circle cx="173.1" cy="255" r="1.6" fill="#b5651d"/>
<circle cx="168" cy="256.9" r="1.6" fill="#b5651d"/>
<circle cx="171.8" cy="257.8" r="1.6" fill="#b5651d"/>
<circle cx="169.9" cy="259.7" r="1.6" fill="#b5651d"/>
<circle cx="168.6" cy="262.1" r="1.6" fill="#b5651d"/>
<circle cx="170.8" cy="263.4" r="1.6" fill="#b5651d"/>
<circle cx="167.4" cy="265.3" r="1.6" fill="#b5651d"/>
<circle cx="169.9" cy="266.2" r="1.6" fill="#b5651d"/>
<circle cx="168.9" cy="268.1" r="1.6" fill="#b5651d"/>
<circle cx="169.3" cy="272.8" r="1.6" fill="#b5651d"/>
<circle cx="170.4" cy="274.1" r="1.6" fill="#b5651d"/>
<circle cx="172.7" cy="279.7" r="1.6" fill="#b5651d"/>
<circle cx="172.7" cy="316.4" r="1.6" fill="#b5651d"/>
<rect x="97" y="229" width="5" height="4.1" fill="#b5651d"/>
<text x="104.3" y="233.1" font-size="7.3" fill="#222">MMP8</text>
<text x="6.8" y="233.0" font-size="11" font-weight="bold" fill="#000" class="nb">D</text>
<line x1="250.0" y1="239.8" x2="250.0" y2="348" stroke="#222" stroke-width="1.3"/>
<line x1="250.0" y1="348" x2="378" y2="348" stroke="#222" stroke-width="1.3"/>
<line x1="247.5" y1="263.5" x2="250.0" y2="263.5" stroke="#222" stroke-width="0.9"/>
<text x="243.3" y="266.1" text-anchor="end" font-size="7.6" fill="#222">2.5</text>
<line x1="247.5" y1="288.2" x2="250.0" y2="288.2" stroke="#222" stroke-width="0.9"/>
<text x="243.3" y="290.8" text-anchor="end" font-size="7.6" fill="#222">0.0</text>
<line x1="247.5" y1="313.5" x2="250.0" y2="313.5" stroke="#222" stroke-width="0.9"/>
<text x="243.3" y="316.1" text-anchor="end" font-size="7.6" fill="#222">−2.5</text>
<line x1="247.5" y1="338.8" x2="250.0" y2="338.8" stroke="#222" stroke-width="0.9"/>
<text x="243.3" y="341.40000000000003" text-anchor="end" font-size="7.6" fill="#222">−5.0</text>
<text transform="translate(224.3,294.4) rotate(-90)" text-anchor="middle" font-size="7.8" fill="#111" style="stroke-width:0.28px" textLength="31" lengthAdjust="spacingAndGlyphs">log2 FPKM</text>
<line x1="260.7" y1="348" x2="260.7" y2="350.5" stroke="#222" stroke-width="0.9"/>
<text transform="translate(263.9,358.0) rotate(-45)" text-anchor="end" font-size="7.5" fill="#222">MLLT3-KMT2A</text>
<line x1="260.7" y1="254.1" x2="260.7" y2="289" stroke="#555" stroke-width="0.9"/>
<rect x="255.35" y="264.8" width="10.7" height="15.800000000000011" fill="#e58a9b"/>
<line x1="255.35" y1="274.9" x2="266.05" y2="274.9" stroke="#222" stroke-width="1.2"/>
<circle cx="258.9" cy="254.1" r="1.6" fill="#cc0a2a"/>
<circle cx="261.5" cy="259.6" r="1.6" fill="#cc0a2a"/>
<circle cx="257.8" cy="266" r="1.6" fill="#cc0a2a"/>
<circle cx="258.4" cy="272.5" r="1.6" fill="#cc0a2a"/>
<circle cx="260.4" cy="274.9" r="1.6" fill="#cc0a2a"/>
<circle cx="262.4" cy="276.8" r="1.6" fill="#cc0a2a"/>
<circle cx="259.4" cy="279.1" r="1.6" fill="#cc0a2a"/>
<circle cx="260.9" cy="286" r="1.6" fill="#cc0a2a"/>
<circle cx="262.7" cy="290.3" r="1.6" fill="#cc0a2a"/>
<line x1="278.5" y1="348" x2="278.5" y2="350.5" stroke="#222" stroke-width="0.9"/>
<text transform="translate(281.7,358.0) rotate(-45)" text-anchor="end" font-size="7.5" fill="#222">NPM1</text>
<line x1="278.5" y1="259.9" x2="278.5" y2="308.2" stroke="#555" stroke-width="0.9"/>
<rect x="273.15" y="269.9" width="10.7" height="17.900000000000034" fill="#84a4c6"/>
<line x1="273.15" y1="278" x2="283.85" y2="278" stroke="#222" stroke-width="1.2"/>
<circle cx="279.6" cy="259.9" r="1.6" fill="#0b4a8e"/>
<circle cx="281.1" cy="263" r="1.6" fill="#0b4a8e"/>
<circle cx="277.3" cy="266" r="1.6" fill="#0b4a8e"/>
<circle cx="280.3" cy="268.3" r="1.6" fill="#0b4a8e"/>
<circle cx="276.2" cy="270.6" r="1.6" fill="#0b4a8e"/>
<circle cx="278" cy="272.2" r="1.6" fill="#0b4a8e"/>
<circle cx="279.6" cy="274.5" r="1.6" fill="#0b4a8e"/>
<circle cx="277.3" cy="276.8" r="1.6" fill="#0b4a8e"/>
<circle cx="281.1" cy="278.3" r="1.6" fill="#0b4a8e"/>
<circle cx="278.8" cy="280.1" r="1.6" fill="#0b4a8e"/>
<circle cx="277.7" cy="282.1" r="1.6" fill="#0b4a8e"/>
<circle cx="280.3" cy="283.7" r="1.6" fill="#0b4a8e"/>
<circle cx="276.5" cy="286" r="1.6" fill="#0b4a8e"/>
<circle cx="278" cy="287.5" r="1.6" fill="#0b4a8e"/>
<circle cx="279.6" cy="289" r="1.6" fill="#0b4a8e"/>
<circle cx="276.8" cy="294.4" r="1.6" fill="#0b4a8e"/>
<circle cx="280.3" cy="294.4" r="1.6" fill="#0b4a8e"/>
<circle cx="278.8" cy="301" r="1.6" fill="#0b4a8e"/>
<circle cx="277.7" cy="302.8" r="1.6" fill="#0b4a8e"/>
<circle cx="279.6" cy="304.1" r="1.6" fill="#0b4a8e"/>
<circle cx="277.3" cy="307.1" r="1.6" fill="#0b4a8e"/>
<circle cx="279.9" cy="308.2" r="1.6" fill="#0b4a8e"/>
<circle cx="278" cy="305.1" r="1.6" fill="#0b4a8e"/>
<circle cx="278" cy="262" r="1.6" fill="#0b4a8e"/>
<circle cx="279.5" cy="264.5" r="1.6" fill="#0b4a8e"/>
<circle cx="277.5" cy="267.5" r="1.6" fill="#0b4a8e"/>
<circle cx="279" cy="269.5" r="1.6" fill="#0b4a8e"/>
<circle cx="280.5" cy="271" r="1.6" fill="#0b4a8e"/>
<circle cx="277" cy="273.5" r="1.6" fill="#0b4a8e"/>
<circle cx="278.5" cy="276" r="1.6" fill="#0b4a8e"/>
<circle cx="280" cy="279.5" r="1.6" fill="#0b4a8e"/>
<circle cx="277" cy="281" r="1.6" fill="#0b4a8e"/>
<circle cx="279" cy="283" r="1.6" fill="#0b4a8e"/>
<circle cx="278" cy="285" r="1.6" fill="#0b4a8e"/>
<circle cx="276.8" cy="288.5" r="1.6" fill="#0b4a8e"/>
<circle cx="279.5" cy="291" r="1.6" fill="#0b4a8e"/>
<line x1="296.1" y1="348" x2="296.1" y2="350.5" stroke="#222" stroke-width="0.9"/>
<text transform="translate(299.3,358.0) rotate(-45)" text-anchor="end" font-size="7.5" fill="#222">NPM1/FTL3</text>
<line x1="296.1" y1="255.4" x2="296.1" y2="293.4" stroke="#555" stroke-width="0.9"/>
<rect x="290.75" y="267.1" width="10.7" height="15.599999999999966" fill="#a2dcaa"/>
<line x1="290.75" y1="271.4" x2="301.45000000000005" y2="271.4" stroke="#222" stroke-width="1.2"/>
<circle cx="298.3" cy="255.4" r="1.6" fill="#2fb548"/>
<circle cx="295.1" cy="256.8" r="1.6" fill="#2fb548"/>
<circle cx="293.6" cy="260.2" r="1.6" fill="#2fb548"/>
<circle cx="297" cy="262.1" r="1.6" fill="#2fb548"/>
<circle cx="295.9" cy="264.7" r="1.6" fill="#2fb548"/>
<circle cx="298.3" cy="266.2" r="1.6" fill="#2fb548"/>
<circle cx="294.6" cy="268.1" r="1.6" fill="#2fb548"/>
<circle cx="297" cy="270" r="1.6" fill="#2fb548"/>
<circle cx="293.6" cy="271.8" r="1.6" fill="#2fb548"/>
<circle cx="295.9" cy="273.3" r="1.6" fill="#2fb548"/>
<circle cx="294.6" cy="279.3" r="1.6" fill="#2fb548"/>
<circle cx="297" cy="280.8" r="1.6" fill="#2fb548"/>
<circle cx="295.9" cy="282.7" r="1.6" fill="#2fb548"/>
<circle cx="298.3" cy="284.6" r="1.6" fill="#2fb548"/>
<circle cx="293.6" cy="289.6" r="1.6" fill="#2fb548"/>
<circle cx="297.4" cy="293.4" r="1.6" fill="#2fb548"/>
<circle cx="298.3" cy="322" r="1.6" fill="#2fb548"/>
<circle cx="294.6" cy="331.7" r="1.6" fill="#2fb548"/>
<line x1="313.7" y1="348" x2="313.7" y2="350.5" stroke="#222" stroke-width="0.9"/>
<text transform="translate(316.9,358.0) rotate(-45)" text-anchor="end" font-size="7.5" fill="#222">CBFB-MYH11</text>
<line x1="313.7" y1="262.8" x2="313.7" y2="292.4" stroke="#555" stroke-width="0.9"/>
<rect x="308.34999999999997" y="273.3" width="10.7" height="10.699999999999989" fill="#b39bc9"/>
<line x1="308.34999999999997" y1="280.2" x2="319.05" y2="280.2" stroke="#222" stroke-width="1.2"/>
<circle cx="314.2" cy="262.8" r="1.6" fill="#4b0b6e"/>
<circle cx="315.7" cy="268.5" r="1.6" fill="#4b0b6e"/>
<circle cx="311.4" cy="270.3" r="1.6" fill="#4b0b6e"/>
<circle cx="313.3" cy="275.2" r="1.6" fill="#4b0b6e"/>
<circle cx="315.7" cy="279.3" r="1.6" fill="#4b0b6e"/>
<circle cx="312.3" cy="280.2" r="1.6" fill="#4b0b6e"/>
<circle cx="317" cy="282.1" r="1.6" fill="#4b0b6e"/>
<circle cx="314.6" cy="284.9" r="1.6" fill="#4b0b6e"/>
<circle cx="312.3" cy="292.4" r="1.6" fill="#4b0b6e"/>
<circle cx="312.3" cy="311.1" r="1.6" fill="#4b0b6e"/>
<line x1="331.4" y1="348" x2="331.4" y2="350.5" stroke="#222" stroke-width="0.9"/>
<text transform="translate(334.59999999999997,358.0) rotate(-45)" text-anchor="end" font-size="7.5" fill="#222">PML-RARA</text>
<line x1="331.4" y1="254.9" x2="331.4" y2="270.4" stroke="#555" stroke-width="0.9"/>
<rect x="326.04999999999995" y="261.2" width="10.7" height="7.600000000000023" fill="#ffcb8c"/>
<line x1="326.04999999999995" y1="264.2" x2="336.75" y2="264.2" stroke="#222" stroke-width="1.2"/>
<circle cx="330.4" cy="248" r="1.6" fill="#ff8a00"/>
<circle cx="330.4" cy="254.9" r="1.6" fill="#ff8a00"/>
<circle cx="333" cy="260.3" r="1.6" fill="#ff8a00"/>
<circle cx="329.7" cy="263" r="1.6" fill="#ff8a00"/>
<circle cx="332" cy="264.2" r="1.6" fill="#ff8a00"/>
<circle cx="328.9" cy="265.3" r="1.6" fill="#ff8a00"/>
<circle cx="333.5" cy="268.4" r="1.6" fill="#ff8a00"/>
<circle cx="330.9" cy="270.4" r="1.6" fill="#ff8a00"/>
<circle cx="331.5" cy="269.2" r="1.6" fill="#ff8a00"/>
<circle cx="329.8" cy="343.3" r="1.6" fill="#ff8a00"/>
<line x1="349.6" y1="348" x2="349.6" y2="350.5" stroke="#222" stroke-width="0.9"/>
<text transform="translate(352.8,358.0) rotate(-45)" text-anchor="end" font-size="7.5" fill="#222">RUNX1-RUNX1T1</text>
<line x1="349.6" y1="246.1" x2="349.6" y2="282.2" stroke="#555" stroke-width="0.9"/>
<rect x="344.25" y="263.8" width="10.7" height="17.899999999999977" fill="#ffe19c"/>
<line x1="344.25" y1="275.6" x2="354.95000000000005" y2="275.6" stroke="#222" stroke-width="1.2"/>
<circle cx="350.4" cy="246.1" r="1.6" fill="#ffb000"/>
<circle cx="351.9" cy="261.9" r="1.6" fill="#ffb000"/>
<circle cx="349.6" cy="269.5" r="1.6" fill="#ffb000"/>
<circle cx="347.3" cy="282.2" r="1.6" fill="#ffb000"/>
<circle cx="347.3" cy="314" r="1.6" fill="#ffb000"/>
<line x1="367.4" y1="348" x2="367.4" y2="350.5" stroke="#222" stroke-width="0.9"/>
<text transform="translate(370.59999999999997,358.0) rotate(-45)" text-anchor="end" font-size="7.5" fill="#222">Healthy, individual BM MNC</text>
<line x1="367.4" y1="294.5" x2="367.4" y2="318.6" stroke="#555" stroke-width="0.9"/>
<rect x="362.04999999999995" y="301.1" width="10.7" height="4.099999999999966" fill="#dcb189"/>
<line x1="362.04999999999995" y1="302.9" x2="372.75" y2="302.9" stroke="#222" stroke-width="1.2"/>
<circle cx="365.3" cy="279.6" r="1.6" fill="#b5651d"/>
<circle cx="368" cy="294.5" r="1.6" fill="#b5651d"/>
<circle cx="365.7" cy="298.6" r="1.6" fill="#b5651d"/>
<circle cx="367.3" cy="300.6" r="1.6" fill="#b5651d"/>
<circle cx="364.2" cy="302.6" r="1.6" fill="#b5651d"/>
<circle cx="368.8" cy="303.7" r="1.6" fill="#b5651d"/>
<circle cx="365.7" cy="305.2" r="1.6" fill="#b5651d"/>
<circle cx="364.2" cy="308.3" r="1.6" fill="#b5651d"/>
<circle cx="366.5" cy="313.3" r="1.6" fill="#b5651d"/>
<circle cx="367.7" cy="316" r="1.6" fill="#b5651d"/>
<circle cx="366.8" cy="318.6" r="1.6" fill="#b5651d"/>
<rect x="294" y="228.7" width="5" height="4.1" fill="#b5651d"/>
<text x="301.5" y="233.3" font-size="7.3" fill="#222">MMP19</text>
<text x="218.3" y="233.0" font-size="11" font-weight="bold" fill="#000" class="nb">E</text>
<rect x="388.6" y="278" width="4.9" height="3.6" fill="#2fb548"/>
<text class="nb" x="402.9" y="282.5" font-size="6.9" fill="#2fb548">Prinomastat targets</text>
<rect x="388.6" y="290.4" width="4.9" height="3.8" fill="#b5651d"/>
<text class="nb" x="402.9" y="294.5" font-size="6.9" fill="#b5651d" xml:space="preserve">UP in murine  MLL-AF9</text>
<text x="6.8" y="451.1" font-size="11" font-weight="bold" fill="#000" class="nb">F</text>
<text x="111" y="451.8" text-anchor="middle" font-size="9" fill="#111" style="stroke-width:0.12px" textLength="120" lengthAdjust="spacingAndGlyphs">Effect of prinomastat on HL60</text>
<text x="110.8" y="461.8" text-anchor="middle" font-size="9" fill="#111" style="stroke-width:0.12px" textLength="122.5" lengthAdjust="spacingAndGlyphs">cell proliferation (growth curve)</text>
<line x1="50.9" y1="557.70" x2="54.5" y2="557.70" stroke="#222" stroke-width="0.9"/>
<line x1="51.5" y1="555.74" x2="54.5" y2="555.74" stroke="#333" stroke-width="0.6"/>
<line x1="51.5" y1="553.78" x2="54.5" y2="553.78" stroke="#333" stroke-width="0.6"/>
<line x1="51.5" y1="551.81" x2="54.5" y2="551.81" stroke="#333" stroke-width="0.6"/>
<line x1="51.5" y1="549.85" x2="54.5" y2="549.85" stroke="#333" stroke-width="0.6"/>
<line x1="51.5" y1="547.89" x2="54.5" y2="547.89" stroke="#333" stroke-width="0.6"/>
<line x1="51.5" y1="545.93" x2="54.5" y2="545.93" stroke="#333" stroke-width="0.6"/>
<line x1="51.5" y1="543.97" x2="54.5" y2="543.97" stroke="#333" stroke-width="0.6"/>
<line x1="51.5" y1="542.00" x2="54.5" y2="542.00" stroke="#333" stroke-width="0.6"/>
<line x1="51.5" y1="540.04" x2="54.5" y2="540.04" stroke="#333" stroke-width="0.6"/>
<line x1="50.9" y1="538.08" x2="54.5" y2="538.08" stroke="#222" stroke-width="0.9"/>
<line x1="51.5" y1="536.12" x2="54.5" y2="536.12" stroke="#333" stroke-width="0.6"/>
<line x1="51.5" y1="534.16" x2="54.5" y2="534.16" stroke="#333" stroke-width="0.6"/>
<line x1="51.5" y1="532.19" x2="54.5" y2="532.19" stroke="#333" stroke-width="0.6"/>
<line x1="51.5" y1="530.23" x2="54.5" y2="530.23" stroke="#333" stroke-width="0.6"/>
<line x1="51.5" y1="528.27" x2="54.5" y2="528.27" stroke="#333" stroke-width="0.6"/>
<line x1="51.5" y1="526.31" x2="54.5" y2="526.31" stroke="#333" stroke-width="0.6"/>
<line x1="51.5" y1="524.35" x2="54.5" y2="524.35" stroke="#333" stroke-width="0.6"/>
<line x1="51.5" y1="522.38" x2="54.5" y2="522.38" stroke="#333" stroke-width="0.6"/>
<line x1="51.5" y1="520.42" x2="54.5" y2="520.42" stroke="#333" stroke-width="0.6"/>
<line x1="50.9" y1="518.46" x2="54.5" y2="518.46" stroke="#222" stroke-width="0.9"/>
<line x1="51.5" y1="516.50" x2="54.5" y2="516.50" stroke="#333" stroke-width="0.6"/>
<line x1="51.5" y1="514.54" x2="54.5" y2="514.54" stroke="#333" stroke-width="0.6"/>
<line x1="51.5" y1="512.57" x2="54.5" y2="512.57" stroke="#333" stroke-width="0.6"/>
<line x1="51.5" y1="510.61" x2="54.5" y2="510.61" stroke="#333" stroke-width="0.6"/>
<line x1="51.5" y1="508.65" x2="54.5" y2="508.65" stroke="#333" stroke-width="0.6"/>
<line x1="51.5" y1="506.69" x2="54.5" y2="506.69" stroke="#333" stroke-width="0.6"/>
<line x1="51.5" y1="504.73" x2="54.5" y2="504.73" stroke="#333" stroke-width="0.6"/>
<line x1="51.5" y1="502.76" x2="54.5" y2="502.76" stroke="#333" stroke-width="0.6"/>
<line x1="51.5" y1="500.80" x2="54.5" y2="500.80" stroke="#333" stroke-width="0.6"/>
<line x1="50.9" y1="498.84" x2="54.5" y2="498.84" stroke="#222" stroke-width="0.9"/>
<line x1="51.5" y1="496.88" x2="54.5" y2="496.88" stroke="#333" stroke-width="0.6"/>
<line x1="51.5" y1="494.92" x2="54.5" y2="494.92" stroke="#333" stroke-width="0.6"/>
<line x1="51.5" y1="492.95" x2="54.5" y2="492.95" stroke="#333" stroke-width="0.6"/>
<line x1="51.5" y1="490.99" x2="54.5" y2="490.99" stroke="#333" stroke-width="0.6"/>
<line x1="51.5" y1="489.03" x2="54.5" y2="489.03" stroke="#333" stroke-width="0.6"/>
<line x1="51.5" y1="487.07" x2="54.5" y2="487.07" stroke="#333" stroke-width="0.6"/>
<line x1="51.5" y1="485.11" x2="54.5" y2="485.11" stroke="#333" stroke-width="0.6"/>
<line x1="51.5" y1="483.14" x2="54.5" y2="483.14" stroke="#333" stroke-width="0.6"/>
<line x1="51.5" y1="481.18" x2="54.5" y2="481.18" stroke="#333" stroke-width="0.6"/>
<line x1="50.9" y1="479.22" x2="54.5" y2="479.22" stroke="#222" stroke-width="0.9"/>
<line x1="51.5" y1="477.26" x2="54.5" y2="477.26" stroke="#333" stroke-width="0.6"/>
<line x1="51.5" y1="475.30" x2="54.5" y2="475.30" stroke="#333" stroke-width="0.6"/>
<line x1="54.5" y1="474.6" x2="54.5" y2="557.7" stroke="#111" stroke-width="1.3"/>
<line x1="54.5" y1="557.7" x2="171" y2="557.7" stroke="#111" stroke-width="1.3"/>
<text x="49.2" y="482.9" text-anchor="end" font-size="7.5" fill="#222" letter-spacing="0.45">2.0×10<tspan dy="-2.9" font-size="5.3">6</tspan></text>
<text x="49.2" y="502.5" text-anchor="end" font-size="7.5" fill="#222" letter-spacing="0.45">1.5×10<tspan dy="-2.9" font-size="5.3">6</tspan></text>
<text x="49.2" y="522.2" text-anchor="end" font-size="7.5" fill="#222" letter-spacing="0.45">1.0×10<tspan dy="-2.9" font-size="5.3">6</tspan></text>
<text x="49.2" y="541.8000000000001" text-anchor="end" font-size="7.5" fill="#222" letter-spacing="0.45">5.0×10<tspan dy="-2.9" font-size="5.3">5</tspan></text>
<text x="49.2" y="561.2" text-anchor="end" font-size="7" fill="#222" letter-spacing="0.35">0.0</text>
<line x1="66.3" y1="557.7" x2="66.3" y2="560.9000000000001" stroke="#111" stroke-width="1"/>
<text x="66.3" y="569.8" text-anchor="middle" font-size="7.5" fill="#222" letter-spacing="0.3">0</text>
<line x1="89.6" y1="557.7" x2="89.6" y2="560.9000000000001" stroke="#111" stroke-width="1"/>
<text x="89.6" y="569.8" text-anchor="middle" font-size="7.5" fill="#222" letter-spacing="0.3">24</text>
<line x1="113.2" y1="557.7" x2="113.2" y2="560.9000000000001" stroke="#111" stroke-width="1"/>
<text x="113.2" y="569.8" text-anchor="middle" font-size="7.5" fill="#222" letter-spacing="0.3">48</text>
<line x1="136.5" y1="557.7" x2="136.5" y2="560.9000000000001" stroke="#111" stroke-width="1"/>
<text x="136.5" y="569.8" text-anchor="middle" font-size="7.5" fill="#222" letter-spacing="0.3">72</text>
<line x1="160" y1="557.7" x2="160" y2="560.9000000000001" stroke="#111" stroke-width="1"/>
<text x="160" y="569.8" text-anchor="middle" font-size="7.5" fill="#222" letter-spacing="0.3">96</text>
<text x="113.3" y="580" text-anchor="middle" font-size="8.2" fill="#111" style="stroke-width:0.3px" textLength="16" lengthAdjust="spacingAndGlyphs">Hours</text>
<text transform="translate(12.6,519) rotate(-90)" text-anchor="middle" font-size="8.2" fill="#111" style="stroke-width:0.3px" textLength="27" lengthAdjust="spacingAndGlyphs">Cells/well</text>
<polyline points="66.3,551.9 89.6,540.4 113.2,520.1 136.5,496.8 160,494.5" fill="none" stroke="#ff8a00" stroke-width="1.5"/>
<polyline points="66.3,551.9 89.6,542.1 113.2,531.4 136.5,520.8 160,517.9" fill="none" stroke="#4b0b6e" stroke-width="1.5"/>
<polyline points="66.3,551.9 89.6,543.5 113.2,540.7 136.5,540.4 160,544.4" fill="none" stroke="#2fb548" stroke-width="1.5"/>
<polyline points="66.3,551.9 89.6,545.6 113.2,545.6 136.5,548.2 160,549.0" fill="none" stroke="#0b4a8e" stroke-width="1.5"/>
<polyline points="66.3,551.9 89.6,547.3 113.2,549.9 136.5,552.2 160,555.1" fill="none" stroke="#cc0a2a" stroke-width="1.5"/>
<rect x="64.2" y="549.8" width="4.2" height="4.2" fill="#ff8a00"/>
<rect x="87.5" y="538.3" width="4.2" height="4.2" fill="#ff8a00"/>
<rect x="111.10000000000001" y="518.0" width="4.2" height="4.2" fill="#ff8a00"/>
<rect x="134.4" y="494.7" width="4.2" height="4.2" fill="#ff8a00"/>
<rect x="157.9" y="492.4" width="4.2" height="4.2" fill="#ff8a00"/>
<path d="M87.3,538.4H91.89999999999999M89.6,538.4V542.4M87.3,542.4H91.89999999999999" stroke="#111" stroke-width="0.9" fill="none"/>
<path d="M110.9,518.1H115.5M113.2,518.1V522.1M110.9,522.1H115.5" stroke="#111" stroke-width="0.9" fill="none"/>
<path d="M134.2,493.3H138.8M136.5,493.3V500.3M134.2,500.3H138.8" stroke="#111" stroke-width="0.9" fill="none"/>
<path d="M157.7,492.2H162.3M160,492.2V496.8M157.7,496.8H162.3" stroke="#111" stroke-width="0.9" fill="none"/>
<rect x="64.2" y="549.8" width="4.2" height="4.2" fill="#4b0b6e"/>
<rect x="87.5" y="540.0" width="4.2" height="4.2" fill="#4b0b6e"/>
<rect x="111.10000000000001" y="529.3" width="4.2" height="4.2" fill="#4b0b6e"/>
<rect x="134.4" y="518.6999999999999" width="4.2" height="4.2" fill="#4b0b6e"/>
<rect x="157.9" y="515.8" width="4.2" height="4.2" fill="#4b0b6e"/>
<path d="M87.3,540.1H91.89999999999999M89.6,540.1V544.1M87.3,544.1H91.89999999999999" stroke="#111" stroke-width="0.9" fill="none"/>
<path d="M110.9,529.4H115.5M113.2,529.4V533.4M110.9,533.4H115.5" stroke="#111" stroke-width="0.9" fill="none"/>
<path d="M134.2,516.9H138.8M136.5,516.9V524.6999999999999M134.2,524.6999999999999H138.8" stroke="#111" stroke-width="0.9" fill="none"/>
<path d="M157.7,513.6H162.3M160,513.6V522.1999999999999M157.7,522.1999999999999H162.3" stroke="#111" stroke-width="0.9" fill="none"/>
<rect x="64.2" y="549.8" width="4.2" height="4.2" fill="#2fb548"/>
<rect x="87.5" y="541.4" width="4.2" height="4.2" fill="#2fb548"/>
<rect x="111.10000000000001" y="538.6" width="4.2" height="4.2" fill="#2fb548"/>
<rect x="134.4" y="538.3" width="4.2" height="4.2" fill="#2fb548"/>
<rect x="157.9" y="542.3" width="4.2" height="4.2" fill="#2fb548"/>
<path d="M87.3,541.5H91.89999999999999M89.6,541.5V545.5M87.3,545.5H91.89999999999999" stroke="#111" stroke-width="0.9" fill="none"/>
<path d="M110.9,538.7H115.5M113.2,538.7V542.7M110.9,542.7H115.5" stroke="#111" stroke-width="0.9" fill="none"/>
<path d="M134.2,538.4H138.8M136.5,538.4V542.4M134.2,542.4H138.8" stroke="#111" stroke-width="0.9" fill="none"/>
<path d="M157.7,542.1H162.3M160,542.1V546.6999999999999M157.7,546.6999999999999H162.3" stroke="#111" stroke-width="0.9" fill="none"/>
<rect x="64.2" y="549.8" width="4.2" height="4.2" fill="#0b4a8e"/>
<rect x="87.5" y="543.5" width="4.2" height="4.2" fill="#0b4a8e"/>
<rect x="111.10000000000001" y="543.5" width="4.2" height="4.2" fill="#0b4a8e"/>
<rect x="134.4" y="546.1" width="4.2" height="4.2" fill="#0b4a8e"/>
<rect x="157.9" y="546.9" width="4.2" height="4.2" fill="#0b4a8e"/>
<path d="M87.3,543.6H91.89999999999999M89.6,543.6V547.6M87.3,547.6H91.89999999999999" stroke="#111" stroke-width="0.9" fill="none"/>
<path d="M110.9,543.6H115.5M113.2,543.6V547.6M110.9,547.6H115.5" stroke="#111" stroke-width="0.9" fill="none"/>
<path d="M134.2,546.1H138.8M136.5,546.1V550.3000000000001M134.2,550.3000000000001H138.8" stroke="#111" stroke-width="0.9" fill="none"/>
<path d="M157.7,546.9H162.3M160,546.9V551.1M157.7,551.1H162.3" stroke="#111" stroke-width="0.9" fill="none"/>
<rect x="64.2" y="549.8" width="4.2" height="4.2" fill="#cc0a2a"/>
<rect x="87.5" y="545.1999999999999" width="4.2" height="4.2" fill="#cc0a2a"/>
<rect x="111.10000000000001" y="547.8" width="4.2" height="4.2" fill="#cc0a2a"/>
<rect x="134.4" y="550.1" width="4.2" height="4.2" fill="#cc0a2a"/>
<rect x="157.9" y="553.0" width="4.2" height="4.2" fill="#cc0a2a"/>
<path d="M87.3,545.3H91.89999999999999M89.6,545.3V549.3M87.3,549.3H91.89999999999999" stroke="#111" stroke-width="0.9" fill="none"/>
<path d="M110.9,547.9H115.5M113.2,547.9V551.9M110.9,551.9H115.5" stroke="#111" stroke-width="0.9" fill="none"/>
<path d="M134.2,550.2H138.8M136.5,550.2V554.2M134.2,554.2H138.8" stroke="#111" stroke-width="0.9" fill="none"/>
<path d="M157.7,553.3000000000001H162.3M160,553.3000000000001V556.9M157.7,556.9H162.3" stroke="#111" stroke-width="0.9" fill="none"/>
<line x1="60.6" y1="479.3" x2="71" y2="479.3" stroke="#cc0a2a" stroke-width="1.5"/>
<rect x="63.8" y="477.3" width="4" height="4" fill="#cc0a2a"/>
<text x="73.6" y="481.5" font-size="7.1" fill="#1a1a1a" style="stroke-width:0.12px">200µg/ml</text>
<line x1="60.6" y1="488.9" x2="71" y2="488.9" stroke="#0b4a8e" stroke-width="1.5"/>
<rect x="63.8" y="486.9" width="4" height="4" fill="#0b4a8e"/>
<text x="73.6" y="491.09999999999997" font-size="7.1" fill="#1a1a1a" style="stroke-width:0.12px">100µg/ml</text>
<line x1="60.6" y1="498.0" x2="71" y2="498.0" stroke="#2fb548" stroke-width="1.5"/>
<rect x="63.8" y="496.0" width="4" height="4" fill="#2fb548"/>
<text x="73.6" y="500.2" font-size="7.1" fill="#1a1a1a" style="stroke-width:0.12px">50µg/ml</text>
<line x1="60.6" y1="507.5" x2="71" y2="507.5" stroke="#4b0b6e" stroke-width="1.5"/>
<rect x="63.8" y="505.5" width="4" height="4" fill="#4b0b6e"/>
<text x="73.6" y="509.7" font-size="7.1" fill="#1a1a1a" style="stroke-width:0.12px">10µg/ml</text>
<line x1="60.6" y1="516.8" x2="71" y2="516.8" stroke="#ff8a00" stroke-width="1.5"/>
<rect x="63.8" y="514.8" width="4" height="4" fill="#ff8a00"/>
<text x="73.6" y="519.0" font-size="7.1" fill="#1a1a1a" style="stroke-width:0.12px">CTRL</text>
<text x="181.3" y="451.0" font-size="11" font-weight="bold" fill="#000" class="nb">G</text>
<text x="233.5" y="450.8" text-anchor="middle" font-size="9" fill="#111" style="stroke-width:0.14px" textLength="51.4" lengthAdjust="spacingAndGlyphs">HL60_hAML</text>
<rect x="209.3" y="495.8" width="18.899999999999977" height="61.99999999999994" fill="#87a6c7"/>
<rect x="238.1" y="512" width="18.900000000000006" height="45.799999999999955" fill="#a5dcab"/>
<line x1="204.7" y1="458.2" x2="204.7" y2="557.8" stroke="#111" stroke-width="1.2"/>
<line x1="204.7" y1="557.8" x2="261.4" y2="557.8" stroke="#111" stroke-width="1.2"/>
<line x1="201.7" y1="472.1" x2="204.7" y2="472.1" stroke="#111" stroke-width="1"/>
<text x="198.39999999999998" y="474.6" text-anchor="end" font-size="7.3" fill="#222" letter-spacing="0.3">6</text>
<line x1="201.7" y1="500.5" x2="204.7" y2="500.5" stroke="#111" stroke-width="1"/>
<text x="198.39999999999998" y="503.0" text-anchor="end" font-size="7.3" fill="#222" letter-spacing="0.3">4</text>
<line x1="201.7" y1="529.3" x2="204.7" y2="529.3" stroke="#111" stroke-width="1"/>
<text x="198.39999999999998" y="531.8" text-anchor="end" font-size="7.3" fill="#222" letter-spacing="0.3">2</text>
<line x1="201.7" y1="557.8" x2="204.7" y2="557.8" stroke="#111" stroke-width="1"/>
<text x="198.39999999999998" y="560.3" text-anchor="end" font-size="7.3" fill="#222" letter-spacing="0.3">0</text>
<line x1="218.7" y1="557.8" x2="218.7" y2="560.5999999999999" stroke="#111" stroke-width="1"/>
<text x="216" y="569.6" text-anchor="middle" font-size="7" fill="#222" textLength="22" lengthAdjust="spacingAndGlyphs">Vehicle</text>
<line x1="247.5" y1="557.8" x2="247.5" y2="560.5999999999999" stroke="#111" stroke-width="1"/>
<text x="250" y="569.6" text-anchor="middle" font-size="7" fill="#222" textLength="36" lengthAdjust="spacingAndGlyphs">Prinomastat</text>
<text transform="translate(188,509.5) rotate(-90)" text-anchor="middle" font-size="8.4" fill="#111" style="stroke-width:0.3px" textLength="56" lengthAdjust="spacingAndGlyphs">HL60 BM infiltration</text>
<path d="M214.0,488.6H223.39999999999998M218.7,488.6V502.6M214.0,502.6H223.39999999999998" stroke="#222" stroke-width="1.2" fill="none"/>
<path d="M243.0,506.5H252.0M247.5,506.5V516.4M243.0,516.4H252.0" stroke="#222" stroke-width="1.2" fill="none"/>
<circle cx="218.6" cy="478.1" r="1.6" fill="#0b4a8e"/>
<circle cx="216.4" cy="485.9" r="1.6" fill="#0b4a8e"/>
<circle cx="220.8" cy="484.3" r="1.6" fill="#0b4a8e"/>
<circle cx="216.6" cy="499.9" r="1.6" fill="#0b4a8e"/>
<circle cx="220.6" cy="499.9" r="1.6" fill="#0b4a8e"/>
<circle cx="218.6" cy="525.7" r="1.6" fill="#0b4a8e"/>
<circle cx="247.4" cy="496.5" r="1.6" fill="#2fb548"/>
<circle cx="243.3" cy="506.3" r="1.6" fill="#2fb548"/>
<circle cx="251.6" cy="506.3" r="1.6" fill="#2fb548"/>
<circle cx="247.4" cy="509.3" r="1.6" fill="#2fb548"/>
<circle cx="247.4" cy="520.9" r="1.6" fill="#2fb548"/>
<circle cx="247.4" cy="530.4" r="1.6" fill="#2fb548"/>
<line x1="222" y1="467.2" x2="245.2" y2="467.2" stroke="#222" stroke-width="0.9"/>
<text x="233.6" y="464.2" text-anchor="middle" font-size="7.9" fill="#222">0.09</text>
<text x="274.8" y="451.0" font-size="11" font-weight="bold" fill="#000" class="nb">H</text>
<text x="356.3" y="450.9" text-anchor="middle" font-size="9" fill="#111" style="stroke-width:0.14px" textLength="69.5" lengthAdjust="spacingAndGlyphs">BM_HL60_hAML</text>
<rect x="329.2" y="501.1" width="21.5" height="56.299999999999955" fill="#87a6c7"/>
<rect x="361.1" y="521" width="21.69999999999999" height="36.39999999999998" fill="#a5dcab"/>
<line x1="324.1" y1="459" x2="324.1" y2="557.4" stroke="#111" stroke-width="1.2"/>
<line x1="324.1" y1="557.4" x2="388.1" y2="557.4" stroke="#111" stroke-width="1.2"/>
<line x1="321.1" y1="461.7" x2="324.1" y2="461.7" stroke="#111" stroke-width="1"/>
<text x="317.70000000000005" y="464.5" text-anchor="end" font-size="7.5" fill="#222" letter-spacing="0.45">2.0×10<tspan dy="-2.9" font-size="5.3">6</tspan></text>
<line x1="321.1" y1="485.7" x2="324.1" y2="485.7" stroke="#111" stroke-width="1"/>
<text x="317.70000000000005" y="488.5" text-anchor="end" font-size="7.5" fill="#222" letter-spacing="0.45">1.5×10<tspan dy="-2.9" font-size="5.3">6</tspan></text>
<line x1="321.1" y1="509.6" x2="324.1" y2="509.6" stroke="#111" stroke-width="1"/>
<text x="317.70000000000005" y="512.4" text-anchor="end" font-size="7.5" fill="#222" letter-spacing="0.45">1.0×10<tspan dy="-2.9" font-size="5.3">6</tspan></text>
<line x1="321.1" y1="533.5" x2="324.1" y2="533.5" stroke="#111" stroke-width="1"/>
<text x="317.70000000000005" y="536.3" text-anchor="end" font-size="7.5" fill="#222" letter-spacing="0.45">5.0×10<tspan dy="-2.9" font-size="5.3">5</tspan></text>
<line x1="340" y1="557.4" x2="340" y2="560.1999999999999" stroke="#111" stroke-width="1"/>
<text x="338.8" y="570" text-anchor="middle" font-size="7" fill="#222" textLength="22.4" lengthAdjust="spacingAndGlyphs">Vehicle</text>
<line x1="372" y1="557.4" x2="372" y2="560.1999999999999" stroke="#111" stroke-width="1"/>
<text x="372.5" y="570" text-anchor="middle" font-size="7" fill="#222" textLength="35.8" lengthAdjust="spacingAndGlyphs">Prinomastat</text>
<text transform="translate(281,509.4) rotate(-90)" text-anchor="middle" font-size="8.4" fill="#111" style="stroke-width:0.3px" textLength="84.2" lengthAdjust="spacingAndGlyphs">HL60 absolute number/leg</text>
<path d="M334.8,495.3H345.2M340,495.3V506.8M334.8,506.8H345.2" stroke="#222" stroke-width="1.2" fill="none"/>
<path d="M367.1,516.3H376.9M372,516.3V525M367.1,525H376.9" stroke="#222" stroke-width="1.2" fill="none"/>
<circle cx="340" cy="486.7" r="1.6" fill="#0b4a8e"/>
<circle cx="337.9" cy="492.7" r="1.6" fill="#0b4a8e"/>
<circle cx="342.3" cy="493.8" r="1.6" fill="#0b4a8e"/>
<circle cx="340" cy="498.5" r="1.6" fill="#0b4a8e"/>
<circle cx="340" cy="509.4" r="1.6" fill="#0b4a8e"/>
<circle cx="340" cy="525" r="1.6" fill="#0b4a8e"/>
<circle cx="371.7" cy="508.6" r="1.6" fill="#2fb548"/>
<circle cx="367.5" cy="514.3" r="1.6" fill="#2fb548"/>
<circle cx="376.3" cy="515.2" r="1.6" fill="#2fb548"/>
<circle cx="371.7" cy="517.8" r="1.6" fill="#2fb548"/>
<circle cx="371.7" cy="529.8" r="1.6" fill="#2fb548"/>
<circle cx="371.7" cy="537.3" r="1.6" fill="#2fb548"/>
<line x1="345.4" y1="481.6" x2="371.5" y2="481.6" stroke="#222" stroke-width="0.9"/>
<text x="357.25" y="480.3" text-anchor="middle" font-size="7.5" fill="#222">*</text>
<text x="399.7" y="451.0" font-size="11" font-weight="bold" fill="#000" class="nb">I</text>
<text x="479.7" y="451.0" text-anchor="middle" font-size="9" fill="#111" style="stroke-width:0.14px" textLength="50.6" lengthAdjust="spacingAndGlyphs">HL60_hAML</text>
<rect x="453.9" y="508.4" width="20.30000000000001" height="49.200000000000045" fill="#87a6c7"/>
<rect x="484.7" y="527.6" width="20.900000000000034" height="30.0" fill="#a5dcab"/>
<line x1="448.5" y1="458.4" x2="448.5" y2="557.6" stroke="#111" stroke-width="1.2"/>
<line x1="448.5" y1="557.6" x2="511.1" y2="557.6" stroke="#111" stroke-width="1.2"/>
<line x1="445.5" y1="464.4" x2="448.5" y2="464.4" stroke="#111" stroke-width="1"/>
<text x="442.1" y="467.2" text-anchor="end" font-size="7.5" fill="#222" letter-spacing="0.45">3.5×10<tspan dy="-2.9" font-size="5.3">7</tspan></text>
<line x1="445.5" y1="487.6" x2="448.5" y2="487.6" stroke="#111" stroke-width="1"/>
<text x="442.1" y="490.40000000000003" text-anchor="end" font-size="7.5" fill="#222" letter-spacing="0.45">3.0×10<tspan dy="-2.9" font-size="5.3">7</tspan></text>
<line x1="445.5" y1="510.9" x2="448.5" y2="510.9" stroke="#111" stroke-width="1"/>
<text x="442.1" y="513.6999999999999" text-anchor="end" font-size="7.5" fill="#222" letter-spacing="0.45">2.5×10<tspan dy="-2.9" font-size="5.3">7</tspan></text>
<line x1="445.5" y1="534.3" x2="448.5" y2="534.3" stroke="#111" stroke-width="1"/>
<text x="442.1" y="537.0999999999999" text-anchor="end" font-size="7.5" fill="#222" letter-spacing="0.45">2.0×10<tspan dy="-2.9" font-size="5.3">7</tspan></text>
<line x1="445.5" y1="557.6" x2="448.5" y2="557.6" stroke="#111" stroke-width="1"/>
<text x="442.1" y="560.4" text-anchor="end" font-size="7.5" fill="#222" letter-spacing="0.45">1.5×10<tspan dy="-2.9" font-size="5.3">7</tspan></text>
<line x1="463.9" y1="557.6" x2="463.9" y2="560.4" stroke="#111" stroke-width="1"/>
<text x="462" y="569.8" text-anchor="middle" font-size="7" fill="#222" textLength="22.4" lengthAdjust="spacingAndGlyphs">Vehicle</text>
<line x1="495.2" y1="557.6" x2="495.2" y2="560.4" stroke="#111" stroke-width="1"/>
<text x="495.1" y="569.8" text-anchor="middle" font-size="7" fill="#222" textLength="36.8" lengthAdjust="spacingAndGlyphs">Prinomastat</text>
<text transform="translate(405.9,509.5) rotate(-90)" text-anchor="middle" font-size="8.4" fill="#111" style="stroke-width:0.3px" textLength="87.8" lengthAdjust="spacingAndGlyphs">Number of live cells/per leg</text>
<path d="M458.79999999999995,499.3H469.0M463.9,499.3V517.3M458.79999999999995,517.3H469.0" stroke="#222" stroke-width="1.2" fill="none"/>
<path d="M490.2,524.5H500.2M495.2,524.5V530.5M490.2,530.5H500.2" stroke="#222" stroke-width="1.2" fill="none"/>
<circle cx="464.2" cy="485.6" r="1.6" fill="#0b4a8e"/>
<circle cx="461.8" cy="493.3" r="1.6" fill="#0b4a8e"/>
<circle cx="466.4" cy="495.7" r="1.6" fill="#0b4a8e"/>
<circle cx="464.2" cy="513" r="1.6" fill="#0b4a8e"/>
<circle cx="464.2" cy="518.5" r="1.6" fill="#0b4a8e"/>
<circle cx="464.2" cy="544.2" r="1.6" fill="#0b4a8e"/>
<circle cx="493.2" cy="519.1" r="1.6" fill="#2fb548"/>
<circle cx="497.5" cy="521.2" r="1.6" fill="#2fb548"/>
<circle cx="495.1" cy="525.9" r="1.6" fill="#2fb548"/>
<circle cx="493.2" cy="530.7" r="1.6" fill="#2fb548"/>
<circle cx="497.5" cy="532.3" r="1.6" fill="#2fb548"/>
<circle cx="495.1" cy="537.9" r="1.6" fill="#2fb548"/>
<line x1="469.5" y1="483.7" x2="494.8" y2="483.7" stroke="#222" stroke-width="0.9"/>
<text x="482.15" y="480.8" text-anchor="middle" font-size="7.5" fill="#222">ns</text>
<text x="317.6" y="560.2" text-anchor="end" font-size="7" fill="#222" letter-spacing="0.35">0.0</text>
</svg>
</body></html>
